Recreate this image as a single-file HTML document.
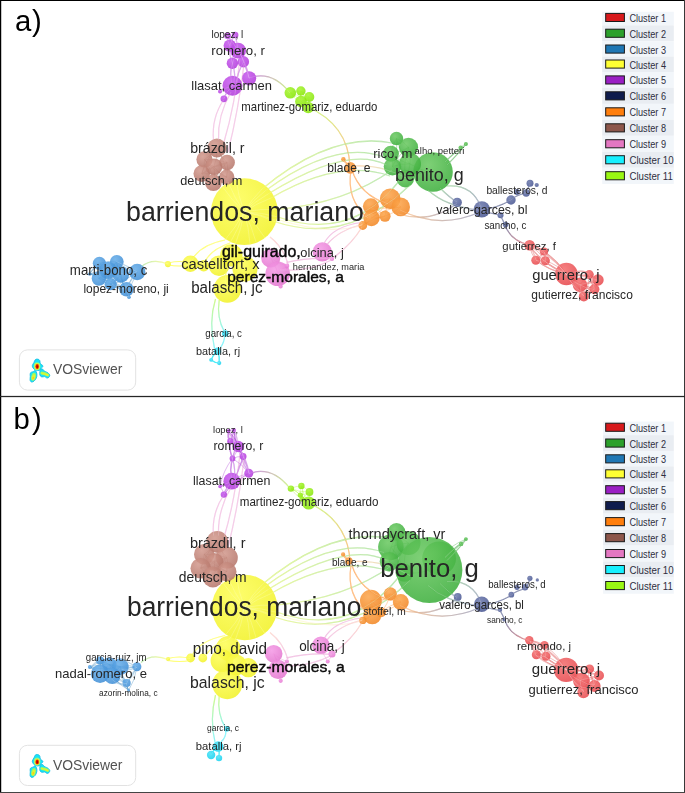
<!DOCTYPE html>
<html><head><meta charset="utf-8"><title>VOSviewer</title>
<style>
html,body{margin:0;padding:0;background:#fff;}
body{width:685px;height:793px;overflow:hidden;position:relative;font-family:"Liberation Sans",sans-serif;}
svg{position:absolute;left:0;top:0;display:block;}
text{font-family:"Liberation Sans",sans-serif;}
</style></head><body>
<svg width="685" height="793" viewBox="0 0 685 793">
<rect x="0" y="0" width="685" height="793" fill="#fff"/>

<defs><filter id="lb" x="-20%" y="-20%" width="140%" height="140%"><feGaussianBlur stdDeviation="0.35"/></filter><radialGradient id="n1" cx="0.38" cy="0.32" r="0.75"><stop offset="0" stop-color="rgb(244, 111, 111)" stop-opacity="0.87"/><stop offset="1" stop-color="rgb(230, 70, 75)" stop-opacity="0.87"/></radialGradient><radialGradient id="n2" cx="0.38" cy="0.32" r="0.75"><stop offset="0" stop-color="rgb(107, 201, 98)" stop-opacity="0.87"/><stop offset="1" stop-color="rgb(58, 173, 58)" stop-opacity="0.87"/></radialGradient><radialGradient id="n3" cx="0.38" cy="0.32" r="0.75"><stop offset="0" stop-color="rgb(102, 173, 233)" stop-opacity="0.87"/><stop offset="1" stop-color="rgb(61, 140, 212)" stop-opacity="0.87"/></radialGradient><radialGradient id="n4" cx="0.38" cy="0.32" r="0.75"><stop offset="0" stop-color="rgb(253, 253, 86)" stop-opacity="0.87"/><stop offset="1" stop-color="rgb(241, 241, 38)" stop-opacity="0.87"/></radialGradient><radialGradient id="n5" cx="0.38" cy="0.32" r="0.75"><stop offset="0" stop-color="rgb(199, 91, 238)" stop-opacity="0.87"/><stop offset="1" stop-color="rgb(176, 56, 217)" stop-opacity="0.87"/></radialGradient><radialGradient id="n6" cx="0.38" cy="0.32" r="0.75"><stop offset="0" stop-color="rgb(109, 122, 173)" stop-opacity="0.87"/><stop offset="1" stop-color="rgb(70, 84, 144)" stop-opacity="0.87"/></radialGradient><radialGradient id="n7" cx="0.38" cy="0.32" r="0.75"><stop offset="0" stop-color="rgb(252, 166, 77)" stop-opacity="0.87"/><stop offset="1" stop-color="rgb(241, 132, 33)" stop-opacity="0.87"/></radialGradient><radialGradient id="n8" cx="0.38" cy="0.32" r="0.75"><stop offset="0" stop-color="rgb(210, 153, 141)" stop-opacity="0.87"/><stop offset="1" stop-color="rgb(180, 116, 104)" stop-opacity="0.87"/></radialGradient><radialGradient id="n9" cx="0.38" cy="0.32" r="0.75"><stop offset="0" stop-color="rgb(244, 153, 229)" stop-opacity="0.87"/><stop offset="1" stop-color="rgb(227, 118, 207)" stop-opacity="0.87"/></radialGradient><radialGradient id="n10" cx="0.38" cy="0.32" r="0.75"><stop offset="0" stop-color="rgb(72, 226, 247)" stop-opacity="0.87"/><stop offset="1" stop-color="rgb(19, 209, 238)" stop-opacity="0.87"/></radialGradient><radialGradient id="n11" cx="0.38" cy="0.32" r="0.75"><stop offset="0" stop-color="rgb(166, 245, 47)" stop-opacity="0.87"/><stop offset="1" stop-color="rgb(134, 229, 8)" stop-opacity="0.87"/></radialGradient><linearGradient id="g0" gradientUnits="userSpaceOnUse" x1="249" y1="78" x2="290" y2="93"><stop offset="0" stop-color="rgba(158,30,205,0.619)"/><stop offset="1" stop-color="rgba(160,245,20,0.619)"/></linearGradient><linearGradient id="g1" gradientUnits="userSpaceOnUse" x1="308" y1="107" x2="350" y2="166"><stop offset="0" stop-color="rgba(160,245,20,0.619)"/><stop offset="1" stop-color="rgba(255,127,14,0.619)"/></linearGradient><linearGradient id="g2" gradientUnits="userSpaceOnUse" x1="262" y1="189" x2="392" y2="143"><stop offset="0" stop-color="rgba(205,238,50,0.569)"/><stop offset="1" stop-color="rgba(110,205,95,0.569)"/></linearGradient><linearGradient id="g3" gradientUnits="userSpaceOnUse" x1="265" y1="191" x2="384" y2="157"><stop offset="0" stop-color="rgba(205,238,50,0.569)"/><stop offset="1" stop-color="rgba(110,205,95,0.569)"/></linearGradient><linearGradient id="g4" gradientUnits="userSpaceOnUse" x1="268" y1="194" x2="386.5" y2="164.7"><stop offset="0" stop-color="rgba(205,238,50,0.569)"/><stop offset="1" stop-color="rgba(110,205,95,0.569)"/></linearGradient><linearGradient id="g5" gradientUnits="userSpaceOnUse" x1="271" y1="198" x2="390" y2="176"><stop offset="0" stop-color="rgba(205,238,50,0.569)"/><stop offset="1" stop-color="rgba(110,205,95,0.569)"/></linearGradient><linearGradient id="g6" gradientUnits="userSpaceOnUse" x1="277.3" y1="209.4" x2="392" y2="170"><stop offset="0" stop-color="rgba(205,238,50,0.569)"/><stop offset="1" stop-color="rgba(110,205,95,0.569)"/></linearGradient><linearGradient id="g7" gradientUnits="userSpaceOnUse" x1="278" y1="217" x2="400" y2="180"><stop offset="0" stop-color="rgba(205,238,50,0.569)"/><stop offset="1" stop-color="rgba(110,205,95,0.569)"/></linearGradient><linearGradient id="g8" gradientUnits="userSpaceOnUse" x1="276" y1="222" x2="410" y2="185"><stop offset="0" stop-color="rgba(205,238,50,0.569)"/><stop offset="1" stop-color="rgba(110,205,95,0.569)"/></linearGradient><linearGradient id="g9" gradientUnits="userSpaceOnUse" x1="276" y1="219" x2="362" y2="225"><stop offset="0" stop-color="rgba(255,255,51,0.272)"/><stop offset="1" stop-color="rgba(250,170,150,0.272)"/></linearGradient><linearGradient id="g10" gradientUnits="userSpaceOnUse" x1="355" y1="166" x2="410" y2="180"><stop offset="0" stop-color="rgba(255,127,14,0.371)"/><stop offset="1" stop-color="rgba(110,205,95,0.371)"/></linearGradient><linearGradient id="g11" gradientUnits="userSpaceOnUse" x1="400" y1="210" x2="480" y2="212"><stop offset="0" stop-color="rgba(255,127,14,0.47)"/><stop offset="1" stop-color="rgba(28,40,104,0.47)"/></linearGradient><linearGradient id="g12" gradientUnits="userSpaceOnUse" x1="398" y1="214" x2="457" y2="203"><stop offset="0" stop-color="rgba(255,127,14,0.47)"/><stop offset="1" stop-color="rgba(28,40,104,0.47)"/></linearGradient><linearGradient id="g13" gradientUnits="userSpaceOnUse" x1="440" y1="188" x2="457" y2="202"><stop offset="0" stop-color="rgba(44,160,44,0.446)"/><stop offset="1" stop-color="rgba(28,40,104,0.446)"/></linearGradient><linearGradient id="g14" gradientUnits="userSpaceOnUse" x1="447" y1="186" x2="481" y2="207"><stop offset="0" stop-color="rgba(44,160,44,0.446)"/><stop offset="1" stop-color="rgba(28,40,104,0.446)"/></linearGradient><linearGradient id="g15" gradientUnits="userSpaceOnUse" x1="428" y1="190" x2="478" y2="210"><stop offset="0" stop-color="rgba(44,160,44,0.446)"/><stop offset="1" stop-color="rgba(28,40,104,0.446)"/></linearGradient><linearGradient id="g16" gradientUnits="userSpaceOnUse" x1="505" y1="225" x2="529" y2="245"><stop offset="0" stop-color="rgba(28,40,104,0.619)"/><stop offset="1" stop-color="rgba(214,39,40,0.619)"/></linearGradient><linearGradient id="g17" gradientUnits="userSpaceOnUse" x1="327" y1="244.5" x2="362.5" y2="224.5"><stop offset="0" stop-color="rgba(227,119,194,0.52)"/><stop offset="1" stop-color="rgba(250,170,150,0.52)"/></linearGradient><linearGradient id="g18" gradientUnits="userSpaceOnUse" x1="362" y1="227" x2="333" y2="258"><stop offset="0" stop-color="rgba(250,170,150,0.557)"/><stop offset="1" stop-color="rgba(227,119,194,0.557)"/></linearGradient><linearGradient id="g19" gradientUnits="userSpaceOnUse" x1="270" y1="237" x2="288" y2="264"><stop offset="0" stop-color="rgba(250,170,150,0.495)"/><stop offset="1" stop-color="rgba(227,119,194,0.495)"/></linearGradient><linearGradient id="g20" gradientUnits="userSpaceOnUse" x1="141" y1="267" x2="168" y2="264"><stop offset="0" stop-color="rgba(110,205,95,0.557)"/><stop offset="1" stop-color="rgba(255,255,51,0.557)"/></linearGradient><linearGradient id="g21" gradientUnits="userSpaceOnUse" x1="215.5" y1="299" x2="214.5" y2="348.5"><stop offset="0" stop-color="rgba(160,245,20,0.619)"/><stop offset="1" stop-color="rgba(23,232,245,0.619)"/></linearGradient><linearGradient id="g22" gradientUnits="userSpaceOnUse" x1="219.2" y1="300" x2="224.5" y2="332"><stop offset="0" stop-color="rgba(160,245,20,0.619)"/><stop offset="1" stop-color="rgba(23,232,245,0.619)"/></linearGradient><linearGradient id="g23" gradientUnits="userSpaceOnUse" x1="249" y1="473.5" x2="290" y2="488.5"><stop offset="0" stop-color="rgba(158,30,205,0.619)"/><stop offset="1" stop-color="rgba(160,245,20,0.619)"/></linearGradient><linearGradient id="g24" gradientUnits="userSpaceOnUse" x1="308" y1="502.5" x2="350" y2="561.5"><stop offset="0" stop-color="rgba(160,245,20,0.619)"/><stop offset="1" stop-color="rgba(255,127,14,0.619)"/></linearGradient><linearGradient id="g25" gradientUnits="userSpaceOnUse" x1="262" y1="584.5" x2="392" y2="538.5"><stop offset="0" stop-color="rgba(205,238,50,0.569)"/><stop offset="1" stop-color="rgba(110,205,95,0.569)"/></linearGradient><linearGradient id="g26" gradientUnits="userSpaceOnUse" x1="265" y1="586.5" x2="384" y2="552.5"><stop offset="0" stop-color="rgba(205,238,50,0.569)"/><stop offset="1" stop-color="rgba(110,205,95,0.569)"/></linearGradient><linearGradient id="g27" gradientUnits="userSpaceOnUse" x1="268" y1="589.5" x2="386.5" y2="560.2"><stop offset="0" stop-color="rgba(205,238,50,0.569)"/><stop offset="1" stop-color="rgba(110,205,95,0.569)"/></linearGradient><linearGradient id="g28" gradientUnits="userSpaceOnUse" x1="271" y1="593.5" x2="390" y2="571.5"><stop offset="0" stop-color="rgba(205,238,50,0.569)"/><stop offset="1" stop-color="rgba(110,205,95,0.569)"/></linearGradient><linearGradient id="g29" gradientUnits="userSpaceOnUse" x1="277.3" y1="604.9" x2="392" y2="565.5"><stop offset="0" stop-color="rgba(205,238,50,0.569)"/><stop offset="1" stop-color="rgba(110,205,95,0.569)"/></linearGradient><linearGradient id="g30" gradientUnits="userSpaceOnUse" x1="278" y1="612.5" x2="400" y2="575.5"><stop offset="0" stop-color="rgba(205,238,50,0.569)"/><stop offset="1" stop-color="rgba(110,205,95,0.569)"/></linearGradient><linearGradient id="g31" gradientUnits="userSpaceOnUse" x1="276" y1="617.5" x2="410" y2="580.5"><stop offset="0" stop-color="rgba(205,238,50,0.569)"/><stop offset="1" stop-color="rgba(110,205,95,0.569)"/></linearGradient><linearGradient id="g32" gradientUnits="userSpaceOnUse" x1="276" y1="614.5" x2="362" y2="620.5"><stop offset="0" stop-color="rgba(255,255,51,0.272)"/><stop offset="1" stop-color="rgba(250,170,150,0.272)"/></linearGradient><linearGradient id="g33" gradientUnits="userSpaceOnUse" x1="355" y1="561.5" x2="410" y2="575.5"><stop offset="0" stop-color="rgba(255,127,14,0.371)"/><stop offset="1" stop-color="rgba(110,205,95,0.371)"/></linearGradient><linearGradient id="g34" gradientUnits="userSpaceOnUse" x1="400" y1="605.5" x2="480" y2="607.5"><stop offset="0" stop-color="rgba(255,127,14,0.47)"/><stop offset="1" stop-color="rgba(28,40,104,0.47)"/></linearGradient><linearGradient id="g35" gradientUnits="userSpaceOnUse" x1="398" y1="609.5" x2="457" y2="598.5"><stop offset="0" stop-color="rgba(255,127,14,0.47)"/><stop offset="1" stop-color="rgba(28,40,104,0.47)"/></linearGradient><linearGradient id="g36" gradientUnits="userSpaceOnUse" x1="440" y1="583.5" x2="457" y2="597.5"><stop offset="0" stop-color="rgba(44,160,44,0.446)"/><stop offset="1" stop-color="rgba(28,40,104,0.446)"/></linearGradient><linearGradient id="g37" gradientUnits="userSpaceOnUse" x1="447" y1="581.5" x2="481" y2="602.5"><stop offset="0" stop-color="rgba(44,160,44,0.446)"/><stop offset="1" stop-color="rgba(28,40,104,0.446)"/></linearGradient><linearGradient id="g38" gradientUnits="userSpaceOnUse" x1="428" y1="585.5" x2="478" y2="605.5"><stop offset="0" stop-color="rgba(44,160,44,0.446)"/><stop offset="1" stop-color="rgba(28,40,104,0.446)"/></linearGradient><linearGradient id="g39" gradientUnits="userSpaceOnUse" x1="505" y1="620.5" x2="529" y2="640.5"><stop offset="0" stop-color="rgba(28,40,104,0.619)"/><stop offset="1" stop-color="rgba(214,39,40,0.619)"/></linearGradient><linearGradient id="g40" gradientUnits="userSpaceOnUse" x1="327" y1="640.0" x2="362.5" y2="620.0"><stop offset="0" stop-color="rgba(227,119,194,0.52)"/><stop offset="1" stop-color="rgba(250,170,150,0.52)"/></linearGradient><linearGradient id="g41" gradientUnits="userSpaceOnUse" x1="362" y1="622.5" x2="333" y2="653.5"><stop offset="0" stop-color="rgba(250,170,150,0.557)"/><stop offset="1" stop-color="rgba(227,119,194,0.557)"/></linearGradient><linearGradient id="g42" gradientUnits="userSpaceOnUse" x1="270" y1="632.5" x2="288" y2="659.5"><stop offset="0" stop-color="rgba(250,170,150,0.495)"/><stop offset="1" stop-color="rgba(227,119,194,0.495)"/></linearGradient><linearGradient id="g43" gradientUnits="userSpaceOnUse" x1="141" y1="662.5" x2="168" y2="659.5"><stop offset="0" stop-color="rgba(110,205,95,0.557)"/><stop offset="1" stop-color="rgba(255,255,51,0.557)"/></linearGradient><linearGradient id="g44" gradientUnits="userSpaceOnUse" x1="215.5" y1="695" x2="215" y2="742"><stop offset="0" stop-color="rgba(160,245,20,0.619)"/><stop offset="1" stop-color="rgba(23,232,245,0.619)"/></linearGradient><linearGradient id="g45" gradientUnits="userSpaceOnUse" x1="219.2" y1="696" x2="225.5" y2="728"><stop offset="0" stop-color="rgba(160,245,20,0.619)"/><stop offset="1" stop-color="rgba(23,232,245,0.619)"/></linearGradient></defs>
<g id="edgesA"><path d="M249,78 Q272,70 290,93" stroke="url(#g0)" stroke-width="1.2" fill="none"/>
<path d="M308,107 Q348,125 350,166" stroke="url(#g1)" stroke-width="1.2" fill="none"/>
<path d="M223.5,100 Q211.5,118 213.5,140" stroke="rgba(227,119,194,0.47)" stroke-width="1.2" fill="none"/>
<path d="M231,92 Q217.5,115 218.5,140" stroke="rgba(227,119,194,0.47)" stroke-width="1.2" fill="none"/>
<path d="M240,58 Q235,105 224,142" stroke="rgba(227,119,194,0.47)" stroke-width="1.2" fill="none"/>
<path d="M244,64 Q238.5,110 228,152" stroke="rgba(227,119,194,0.47)" stroke-width="1.2" fill="none"/>
<path d="M262,189 Q331.8,131.2 392,143" stroke="url(#g2)" stroke-width="1.25" fill="none"/>
<path d="M265,191 Q335.5,139 384,157" stroke="url(#g3)" stroke-width="1.25" fill="none"/>
<path d="M268,194 Q346.6,145 386.5,164.7" stroke="url(#g4)" stroke-width="1.25" fill="none"/>
<path d="M271,198 Q339.5,158 390,176" stroke="url(#g5)" stroke-width="1.25" fill="none"/>
<path d="M277.3,209.4 Q345.4,203.3 392,170" stroke="url(#g6)" stroke-width="1.25" fill="none"/>
<path d="M278,217 Q351,242.5 400,180" stroke="url(#g7)" stroke-width="1.25" fill="none"/>
<path d="M276,222 Q347,245.5 410,185" stroke="url(#g8)" stroke-width="1.25" fill="none"/>
<path d="M276,219 Q330,236 362,225" stroke="url(#g9)" stroke-width="1.2" fill="none"/>
<path d="M351,170 Q346,200 368,218" stroke="rgba(255,127,14,0.619)" stroke-width="1.2" fill="none"/>
<path d="M352,170 Q360,195 388,204" stroke="rgba(255,127,14,0.619)" stroke-width="1.2" fill="none"/>
<path d="M355,166 Q385,165 410,180" stroke="url(#g10)" stroke-width="1.2" fill="none"/>
<path d="M343,160 Q346,163 351,168" stroke="rgba(255,127,14,0.619)" stroke-width="1.2" fill="none"/>
<path d="M400,210 Q440,230 480,212" stroke="url(#g11)" stroke-width="1.2" fill="none"/>
<path d="M398,214 Q432,224 457,203" stroke="url(#g12)" stroke-width="1.2" fill="none"/>
<path d="M440,188 Q450,198 457,202" stroke="url(#g13)" stroke-width="1.2" fill="none"/>
<path d="M447,186 Q472,184 481,207" stroke="url(#g14)" stroke-width="1.2" fill="none"/>
<path d="M428,190 Q445,206 478,210" stroke="url(#g15)" stroke-width="1.2" fill="none"/>
<path d="M445,162 Q455,152 461,148" stroke="rgba(44,160,44,0.619)" stroke-width="1.2" fill="none"/>
<path d="M447,165 Q460,152 466,144" stroke="rgba(44,160,44,0.619)" stroke-width="1.2" fill="none"/>
<path d="M481,210 Q497,208 511,200" stroke="rgba(28,40,104,0.619)" stroke-width="1.2" fill="none"/>
<path d="M511,200 Q516,195 526,193" stroke="rgba(28,40,104,0.619)" stroke-width="1.2" fill="none"/>
<path d="M526,193 Q528,188 530,184" stroke="rgba(28,40,104,0.619)" stroke-width="1.2" fill="none"/>
<path d="M481,210 Q492,214 500,215" stroke="rgba(28,40,104,0.619)" stroke-width="1.2" fill="none"/>
<path d="M500,215 Q503,220 505,225" stroke="rgba(28,40,104,0.619)" stroke-width="1.2" fill="none"/>
<path d="M505,225 Q510,240 529,245" stroke="url(#g16)" stroke-width="1.2" fill="none"/>
<path d="M530,246 Q552,255 566,274" stroke="rgba(214,39,40,0.371)" stroke-width="1.2" fill="none"/>
<path d="M536,260 Q548,270 566,274" stroke="rgba(214,39,40,0.371)" stroke-width="1.2" fill="none"/>
<path d="M545,261 Q552,268 566,274" stroke="rgba(214,39,40,0.371)" stroke-width="1.2" fill="none"/>
<path d="M544,252 Q556,260 566,274" stroke="rgba(214,39,40,0.371)" stroke-width="1.2" fill="none"/>
<path d="M530,246 Q535,255 536,260" stroke="rgba(214,39,40,0.371)" stroke-width="1.2" fill="none"/>
<path d="M566,274 Q580,275 598,280" stroke="rgba(214,39,40,0.371)" stroke-width="1.2" fill="none"/>
<path d="M566,274 Q575,290 584,296" stroke="rgba(214,39,40,0.371)" stroke-width="1.2" fill="none"/>
<path d="M324,243.5 Q333,226 362,222.5" stroke="rgba(227,119,194,0.52)" stroke-width="1.2" fill="none"/>
<path d="M327,244.5 Q339,230 362.5,224.5" stroke="url(#g17)" stroke-width="1.2" fill="none"/>
<path d="M362,227 Q352,244 333,258" stroke="url(#g18)" stroke-width="1.2" fill="none"/>
<path d="M286.5,262.3 Q310,257 332,258.8" stroke="rgba(227,119,194,0.52)" stroke-width="1.2" fill="none"/>
<path d="M280,270 Q308,272 331.5,260" stroke="rgba(227,119,194,0.47)" stroke-width="1.2" fill="none"/>
<path d="M270,237 Q283,247 288,264" stroke="url(#g19)" stroke-width="1.2" fill="none"/>
<path d="M141,267 Q152,257.5 168,264" stroke="url(#g20)" stroke-width="1.2" fill="none"/>
<path d="M168,263 Q180,260 190,263" stroke="rgba(255,255,51,0.866)" stroke-width="1.2" fill="none"/>
<path d="M168,265 Q180,267 190,265" stroke="rgba(255,255,51,0.866)" stroke-width="1.2" fill="none"/>
<path d="M225,240 Q200,245 192,260" stroke="rgba(255,255,51,0.743)" stroke-width="1.2" fill="none"/>
<path d="M230,243 Q210,250 205,262" stroke="rgba(255,255,51,0.743)" stroke-width="1.2" fill="none"/>
<path d="M227.6,36 Q227,41 229.8,45.6" stroke="rgba(158,30,205,0.433)" stroke-width="1.2" fill="none"/>
<path d="M235.1,35 Q237,42 238.1,50.7" stroke="rgba(158,30,205,0.433)" stroke-width="1.2" fill="none"/>
<path d="M227.6,36 Q233,42 238.1,50.7" stroke="rgba(158,30,205,0.433)" stroke-width="1.2" fill="none"/>
<path d="M235.1,35 Q231,40 229.8,45.6" stroke="rgba(158,30,205,0.433)" stroke-width="1.2" fill="none"/>
<path d="M238.1,50.7 Q234,57 232.4,63.2" stroke="rgba(158,30,205,0.433)" stroke-width="1.2" fill="none"/>
<path d="M238.1,50.7 Q242,56 243.4,61.7" stroke="rgba(158,30,205,0.433)" stroke-width="1.2" fill="none"/>
<path d="M229.8,45.6 Q229,55 232.4,63.2" stroke="rgba(158,30,205,0.433)" stroke-width="1.2" fill="none"/>
<path d="M232.4,63.2 Q229,74 232.5,85.7" stroke="rgba(158,30,205,0.495)" stroke-width="1.2" fill="none"/>
<path d="M232.4,63.2 Q236,74 234,85" stroke="rgba(158,30,205,0.495)" stroke-width="1.2" fill="none"/>
<path d="M243.4,61.7 Q238,72 236,82" stroke="rgba(158,30,205,0.495)" stroke-width="1.2" fill="none"/>
<path d="M243.4,61.7 Q247,70 249.1,78.3" stroke="rgba(158,30,205,0.495)" stroke-width="1.2" fill="none"/>
<path d="M238.1,50.7 Q247,64 249.1,78.3" stroke="rgba(158,30,205,0.433)" stroke-width="1.2" fill="none"/>
<path d="M232.5,85.7 Q226,92 223.9,98.8" stroke="rgba(158,30,205,0.495)" stroke-width="1.2" fill="none"/>
<path d="M232.5,85.7 Q225,88 220,91.5" stroke="rgba(158,30,205,0.495)" stroke-width="1.2" fill="none"/>
<path d="M529.6,245.3 Q537,246 544,251.5" stroke="rgba(214,39,40,0.495)" stroke-width="1.2" fill="none"/>
<path d="M544,251.5 Q546,256 545.4,260.7" stroke="rgba(214,39,40,0.495)" stroke-width="1.2" fill="none"/>
<path d="M535.8,260.2 Q540,262 545.4,260.7" stroke="rgba(214,39,40,0.495)" stroke-width="1.2" fill="none"/>
<path d="M529.6,245.3 Q540,262 566.4,274" stroke="rgba(214,39,40,0.495)" stroke-width="1.2" fill="none"/>
<path d="M566.4,274 Q572,282 580,284.8" stroke="rgba(214,39,40,0.495)" stroke-width="1.2" fill="none"/>
<path d="M580,284.8 Q588,283 598,280" stroke="rgba(214,39,40,0.495)" stroke-width="1.2" fill="none"/>
<path d="M580,284.8 Q588,290 594.4,289.3" stroke="rgba(214,39,40,0.495)" stroke-width="1.2" fill="none"/>
<path d="M580,284.8 Q580,292 583.8,296.4" stroke="rgba(214,39,40,0.495)" stroke-width="1.2" fill="none"/>
<path d="M589.3,274.6 Q593,284 594.4,289.3" stroke="rgba(214,39,40,0.495)" stroke-width="1.2" fill="none"/>
<path d="M566.4,274 Q585,268 589.3,274.6" stroke="rgba(214,39,40,0.495)" stroke-width="1.2" fill="none"/>
<path d="M566.4,274 Q580,300 594.4,289.3" stroke="rgba(214,39,40,0.495)" stroke-width="1.2" fill="none"/>
<path d="M136.6,271.7 Q128,266 116.2,261.5" stroke="rgba(31,119,180,0.371)" stroke-width="1.2" fill="none"/>
<path d="M136.6,271.7 Q130,282 126.4,288" stroke="rgba(31,119,180,0.371)" stroke-width="1.2" fill="none"/>
<path d="M136.6,271.7 Q128,276 121.3,273.7" stroke="rgba(31,119,180,0.371)" stroke-width="1.2" fill="none"/>
<path d="M126.4,288 Q127,293 129,297.2" stroke="rgba(31,119,180,0.495)" stroke-width="1.2" fill="none"/>
<path d="M126.4,288 Q118,290 112.1,284" stroke="rgba(31,119,180,0.371)" stroke-width="1.2" fill="none"/>
<path d="M99.9,263.5 Q94,268 90.2,272.3" stroke="rgba(31,119,180,0.371)" stroke-width="1.2" fill="none"/>
<path d="M215.5,299 Q208.5,322 214.5,348.5" stroke="url(#g21)" stroke-width="1.2" fill="none"/>
<path d="M219.2,300 Q216.5,318 224.5,332" stroke="url(#g22)" stroke-width="1.2" fill="none"/>
<path d="M224.8,335 Q224.5,342 220.5,347.5" stroke="rgba(23,232,245,0.619)" stroke-width="1.2" fill="none"/>
<path d="M217.5,351 Q213,355 211,360" stroke="rgba(23,232,245,0.99)" stroke-width="1.2" fill="none"/>
<path d="M217.5,351 Q220,357 219.2,363" stroke="rgba(23,232,245,0.99)" stroke-width="1.2" fill="none"/>
<path d="M211,360 Q215,363 219.2,363" stroke="rgba(23,232,245,0.99)" stroke-width="1.2" fill="none"/>
<path d="M235,245 Q222,275 226,290" stroke="rgba(255,255,51,0.743)" stroke-width="1.2" fill="none"/>
<path d="M244.1,211.8 Q251.7,199.3 262,189" stroke="rgba(255,255,51,0.371)" stroke-width="1.0" fill="none"/>
<path d="M244.1,211.8 Q253.3,200.1 265,191" stroke="rgba(255,255,51,0.371)" stroke-width="1.0" fill="none"/>
<path d="M244.1,211.8 Q255.0,201.5 268,194" stroke="rgba(255,255,51,0.371)" stroke-width="1.0" fill="none"/>
<path d="M244.1,211.8 Q256.7,203.3 271,198" stroke="rgba(255,255,51,0.371)" stroke-width="1.0" fill="none"/>
<path d="M244.1,211.8 Q260.6,208.6 277.3,209.4" stroke="rgba(255,255,51,0.371)" stroke-width="1.0" fill="none"/>
<path d="M244.1,211.8 Q261.4,212.4 278,217" stroke="rgba(255,255,51,0.371)" stroke-width="1.0" fill="none"/>
<path d="M244.1,211.8 Q260.7,215.0 276,222" stroke="rgba(255,255,51,0.371)" stroke-width="1.0" fill="none"/>
<path d="M244.1,211.8 Q260.0,214.0 275,220" stroke="rgba(255,255,51,0.371)" stroke-width="1.0" fill="none"/>
<path d="M244.1,211.8 Q256.1,223.6 265,238" stroke="rgba(255,255,51,0.371)" stroke-width="1.0" fill="none"/>
<path d="M244.1,211.8 Q236.2,227.0 225,240" stroke="rgba(255,255,51,0.371)" stroke-width="1.0" fill="none"/>
<path d="M244.1,211.8 Q238.9,228.2 230,243" stroke="rgba(255,255,51,0.371)" stroke-width="1.0" fill="none"/>
<path d="M244.1,211.8 Q241.5,228.9 235,245" stroke="rgba(255,255,51,0.371)" stroke-width="1.0" fill="none"/>
<path d="M244.1,211.8 Q234.3,197.9 228,182" stroke="rgba(255,255,51,0.371)" stroke-width="1.0" fill="none"/>
<path d="M244.1,211.8 Q238.1,195.9 236,179" stroke="rgba(255,255,51,0.371)" stroke-width="1.0" fill="none"/>
<path d="M244.1,211.8 Q231.5,200.2 222,186" stroke="rgba(255,255,51,0.371)" stroke-width="1.0" fill="none"/>
<path d="M244.1,211.8 Q249.0,227.5 250,244" stroke="rgba(255,255,51,0.371)" stroke-width="1.0" fill="none"/>
<path d="M244.1,211.8 Q251.9,226.2 256,242" stroke="rgba(255,255,51,0.371)" stroke-width="1.0" fill="none"/>
<path d="M529.6,245.3 Q537.5,246.7 544,251.5" stroke="rgba(214,39,40,0.309)" stroke-width="1.0" fill="none"/>
<path d="M529.6,245.3 Q530.9,253.5 535.8,260.2" stroke="rgba(214,39,40,0.309)" stroke-width="1.0" fill="none"/>
<path d="M529.6,245.3 Q539.3,251.1 545.4,260.7" stroke="rgba(214,39,40,0.309)" stroke-width="1.0" fill="none"/>
<path d="M544,251.5 Q540.9,256.8 535.8,260.2" stroke="rgba(214,39,40,0.309)" stroke-width="1.0" fill="none"/>
<path d="M544,251.5 Q543.6,256.3 545.4,260.7" stroke="rgba(214,39,40,0.309)" stroke-width="1.0" fill="none"/>
<path d="M544,251.5 Q557.9,260.1 566.4,274" stroke="rgba(214,39,40,0.309)" stroke-width="1.0" fill="none"/>
<path d="M535.8,260.2 Q540.7,259.3 545.4,260.7" stroke="rgba(214,39,40,0.309)" stroke-width="1.0" fill="none"/>
<path d="M535.8,260.2 Q549.4,270.8 566.4,274" stroke="rgba(214,39,40,0.309)" stroke-width="1.0" fill="none"/>
<path d="M545.4,260.7 Q557.5,264.8 566.4,274" stroke="rgba(214,39,40,0.309)" stroke-width="1.0" fill="none"/>
<path d="M566.4,274 Q574.5,277.8 580,284.8" stroke="rgba(214,39,40,0.309)" stroke-width="1.0" fill="none"/>
<path d="M566.4,274 Q577.8,277.0 589.3,274.6" stroke="rgba(214,39,40,0.309)" stroke-width="1.0" fill="none"/>
<path d="M566.4,274 Q582.9,273.2 598,280" stroke="rgba(214,39,40,0.309)" stroke-width="1.0" fill="none"/>
<path d="M566.4,274 Q578.6,285.0 594.4,289.3" stroke="rgba(214,39,40,0.309)" stroke-width="1.0" fill="none"/>
<path d="M566.4,274 Q577.8,283.1 583.8,296.4" stroke="rgba(214,39,40,0.309)" stroke-width="1.0" fill="none"/>
<path d="M580,284.8 Q583.4,278.6 589.3,274.6" stroke="rgba(214,39,40,0.309)" stroke-width="1.0" fill="none"/>
<path d="M580,284.8 Q589.6,284.6 598,280" stroke="rgba(214,39,40,0.309)" stroke-width="1.0" fill="none"/>
<path d="M580,284.8 Q587.7,285.3 594.4,289.3" stroke="rgba(214,39,40,0.309)" stroke-width="1.0" fill="none"/>
<path d="M580,284.8 Q580.5,291.1 583.8,296.4" stroke="rgba(214,39,40,0.309)" stroke-width="1.0" fill="none"/>
<path d="M589.3,274.6 Q594.3,276.3 598,280" stroke="rgba(214,39,40,0.309)" stroke-width="1.0" fill="none"/>
<path d="M589.3,274.6 Q590.1,282.6 594.4,289.3" stroke="rgba(214,39,40,0.309)" stroke-width="1.0" fill="none"/>
<path d="M589.3,274.6 Q589.2,286.2 583.8,296.4" stroke="rgba(214,39,40,0.309)" stroke-width="1.0" fill="none"/>
<path d="M598,280 Q597.3,285.1 594.4,289.3" stroke="rgba(214,39,40,0.309)" stroke-width="1.0" fill="none"/>
<path d="M598,280 Q588.9,286.5 583.8,296.4" stroke="rgba(214,39,40,0.309)" stroke-width="1.0" fill="none"/>
<path d="M594.4,289.3 Q590.0,294.1 583.8,296.4" stroke="rgba(214,39,40,0.309)" stroke-width="1.0" fill="none"/>
<path d="M433,172 Q420.5,170.8 410,164" stroke="rgba(44,160,44,0.309)" stroke-width="1.0" fill="none"/>
<path d="M433,172 Q418.4,172.0 405.3,178.6" stroke="rgba(44,160,44,0.309)" stroke-width="1.0" fill="none"/>
<path d="M396.5,138.5 Q403.6,141.5 408.5,147.3" stroke="rgba(44,160,44,0.309)" stroke-width="1.0" fill="none"/>
<path d="M396.5,138.5 Q391.9,145.4 390.9,153.7" stroke="rgba(44,160,44,0.309)" stroke-width="1.0" fill="none"/>
<path d="M396.5,138.5 Q397.9,153.0 392.5,166.6" stroke="rgba(44,160,44,0.309)" stroke-width="1.0" fill="none"/>
<path d="M396.5,138.5 Q400.2,152.9 410,164" stroke="rgba(44,160,44,0.309)" stroke-width="1.0" fill="none"/>
<path d="M408.5,147.3 Q400.5,152.6 390.9,153.7" stroke="rgba(44,160,44,0.309)" stroke-width="1.0" fill="none"/>
<path d="M408.5,147.3 Q398.2,155.0 392.5,166.6" stroke="rgba(44,160,44,0.309)" stroke-width="1.0" fill="none"/>
<path d="M408.5,147.3 Q411.3,155.5 410,164" stroke="rgba(44,160,44,0.309)" stroke-width="1.0" fill="none"/>
<path d="M408.5,147.3 Q403.1,162.6 405.3,178.6" stroke="rgba(44,160,44,0.309)" stroke-width="1.0" fill="none"/>
<path d="M390.9,153.7 Q393.2,160.0 392.5,166.6" stroke="rgba(44,160,44,0.309)" stroke-width="1.0" fill="none"/>
<path d="M390.9,153.7 Q399.2,161.1 410,164" stroke="rgba(44,160,44,0.309)" stroke-width="1.0" fill="none"/>
<path d="M390.9,153.7 Q401.1,164.4 405.3,178.6" stroke="rgba(44,160,44,0.309)" stroke-width="1.0" fill="none"/>
<path d="M392.5,166.6 Q400.9,163.2 410,164" stroke="rgba(44,160,44,0.309)" stroke-width="1.0" fill="none"/>
<path d="M392.5,166.6 Q397.5,174.1 405.3,178.6" stroke="rgba(44,160,44,0.309)" stroke-width="1.0" fill="none"/>
<path d="M410,164 Q409.4,171.9 405.3,178.6" stroke="rgba(44,160,44,0.309)" stroke-width="1.0" fill="none"/>
<path d="M460.7,147.6 Q462.9,145.2 465.9,144" stroke="rgba(44,160,44,0.309)" stroke-width="1.0" fill="none"/>
<path d="M99.4,263.3 Q107.9,260.5 116.8,261.8" stroke="rgba(31,119,180,0.309)" stroke-width="1.0" fill="none"/>
<path d="M99.4,263.3 Q102.9,267.9 108.1,270.4" stroke="rgba(31,119,180,0.309)" stroke-width="1.0" fill="none"/>
<path d="M99.4,263.3 Q97.3,270.9 98.9,278.6" stroke="rgba(31,119,180,0.309)" stroke-width="1.0" fill="none"/>
<path d="M99.4,263.3 Q111.5,266.3 120.9,274.5" stroke="rgba(31,119,180,0.309)" stroke-width="1.0" fill="none"/>
<path d="M99.4,263.3 Q102.5,275.1 110.7,284.2" stroke="rgba(31,119,180,0.309)" stroke-width="1.0" fill="none"/>
<path d="M99.4,263.3 Q93.3,267.5 89.7,274" stroke="rgba(31,119,180,0.309)" stroke-width="1.0" fill="none"/>
<path d="M116.8,261.8 Q113.5,267.1 108.1,270.4" stroke="rgba(31,119,180,0.309)" stroke-width="1.0" fill="none"/>
<path d="M116.8,261.8 Q125.8,269.3 137.2,272" stroke="rgba(31,119,180,0.309)" stroke-width="1.0" fill="none"/>
<path d="M116.8,261.8 Q109.9,272.3 98.9,278.6" stroke="rgba(31,119,180,0.309)" stroke-width="1.0" fill="none"/>
<path d="M116.8,261.8 Q117.3,268.6 120.9,274.5" stroke="rgba(31,119,180,0.309)" stroke-width="1.0" fill="none"/>
<path d="M116.8,261.8 Q116.4,273.7 110.7,284.2" stroke="rgba(31,119,180,0.309)" stroke-width="1.0" fill="none"/>
<path d="M116.8,261.8 Q118.4,276.7 126.5,289.3" stroke="rgba(31,119,180,0.309)" stroke-width="1.0" fill="none"/>
<path d="M116.8,261.8 Q104.7,271.2 89.7,274" stroke="rgba(31,119,180,0.309)" stroke-width="1.0" fill="none"/>
<path d="M108.1,270.4 Q122.8,267.7 137.2,272" stroke="rgba(31,119,180,0.309)" stroke-width="1.0" fill="none"/>
<path d="M108.1,270.4 Q102.5,273.4 98.9,278.6" stroke="rgba(31,119,180,0.309)" stroke-width="1.0" fill="none"/>
<path d="M108.1,270.4 Q115.0,270.9 120.9,274.5" stroke="rgba(31,119,180,0.309)" stroke-width="1.0" fill="none"/>
<path d="M108.1,270.4 Q107.7,277.6 110.7,284.2" stroke="rgba(31,119,180,0.309)" stroke-width="1.0" fill="none"/>
<path d="M108.1,270.4 Q119.6,277.6 126.5,289.3" stroke="rgba(31,119,180,0.309)" stroke-width="1.0" fill="none"/>
<path d="M108.1,270.4 Q98.5,270.0 89.7,274" stroke="rgba(31,119,180,0.309)" stroke-width="1.0" fill="none"/>
<path d="M108.1,270.4 Q121.8,281.3 129,297.2" stroke="rgba(31,119,180,0.309)" stroke-width="1.0" fill="none"/>
<path d="M137.2,272 Q128.8,271.3 120.9,274.5" stroke="rgba(31,119,180,0.309)" stroke-width="1.0" fill="none"/>
<path d="M137.2,272 Q125.4,281.3 110.7,284.2" stroke="rgba(31,119,180,0.309)" stroke-width="1.0" fill="none"/>
<path d="M137.2,272 Q129.8,279.4 126.5,289.3" stroke="rgba(31,119,180,0.309)" stroke-width="1.0" fill="none"/>
<path d="M137.2,272 Q130.1,283.6 129,297.2" stroke="rgba(31,119,180,0.309)" stroke-width="1.0" fill="none"/>
<path d="M98.9,278.6 Q109.4,273.9 120.9,274.5" stroke="rgba(31,119,180,0.309)" stroke-width="1.0" fill="none"/>
<path d="M98.9,278.6 Q104.1,282.8 110.7,284.2" stroke="rgba(31,119,180,0.309)" stroke-width="1.0" fill="none"/>
<path d="M98.9,278.6 Q114.0,280.6 126.5,289.3" stroke="rgba(31,119,180,0.309)" stroke-width="1.0" fill="none"/>
<path d="M98.9,278.6 Q94.9,275.2 89.7,274" stroke="rgba(31,119,180,0.309)" stroke-width="1.0" fill="none"/>
<path d="M120.9,274.5 Q117.0,280.6 110.7,284.2" stroke="rgba(31,119,180,0.309)" stroke-width="1.0" fill="none"/>
<path d="M120.9,274.5 Q121.9,282.6 126.5,289.3" stroke="rgba(31,119,180,0.309)" stroke-width="1.0" fill="none"/>
<path d="M120.9,274.5 Q105.2,278.0 89.7,274" stroke="rgba(31,119,180,0.309)" stroke-width="1.0" fill="none"/>
<path d="M120.9,274.5 Q122.2,286.8 129,297.2" stroke="rgba(31,119,180,0.309)" stroke-width="1.0" fill="none"/>
<path d="M110.7,284.2 Q119.2,284.9 126.5,289.3" stroke="rgba(31,119,180,0.309)" stroke-width="1.0" fill="none"/>
<path d="M110.7,284.2 Q101.4,276.6 89.7,274" stroke="rgba(31,119,180,0.309)" stroke-width="1.0" fill="none"/>
<path d="M110.7,284.2 Q121.4,288.5 129,297.2" stroke="rgba(31,119,180,0.309)" stroke-width="1.0" fill="none"/>
<path d="M126.5,289.3 Q126.8,293.6 129,297.2" stroke="rgba(31,119,180,0.309)" stroke-width="1.0" fill="none"/>
<path d="M343.4,159.2 Q347.8,162.7 350.2,167.9" stroke="rgba(255,127,14,0.309)" stroke-width="1.0" fill="none"/>
<path d="M370.9,206.3 Q379.6,200.2 390.2,198.7" stroke="rgba(255,127,14,0.309)" stroke-width="1.0" fill="none"/>
<path d="M370.9,206.3 Q385.7,210.2 400.7,206.9" stroke="rgba(255,127,14,0.309)" stroke-width="1.0" fill="none"/>
<path d="M370.9,206.3 Q379.1,209.6 385,216.2" stroke="rgba(255,127,14,0.309)" stroke-width="1.0" fill="none"/>
<path d="M370.9,206.3 Q369.8,212.2 371.5,218" stroke="rgba(255,127,14,0.309)" stroke-width="1.0" fill="none"/>
<path d="M370.9,206.3 Q369.2,216.9 362.8,225.5" stroke="rgba(255,127,14,0.309)" stroke-width="1.0" fill="none"/>
<path d="M390.2,198.7 Q396.4,201.5 400.7,206.9" stroke="rgba(255,127,14,0.309)" stroke-width="1.0" fill="none"/>
<path d="M390.2,198.7 Q385.5,206.8 385,216.2" stroke="rgba(255,127,14,0.309)" stroke-width="1.0" fill="none"/>
<path d="M390.2,198.7 Q383.2,210.6 371.5,218" stroke="rgba(255,127,14,0.309)" stroke-width="1.0" fill="none"/>
<path d="M400.7,206.9 Q394.0,213.4 385,216.2" stroke="rgba(255,127,14,0.309)" stroke-width="1.0" fill="none"/>
<path d="M400.7,206.9 Q384.8,208.9 371.5,218" stroke="rgba(255,127,14,0.309)" stroke-width="1.0" fill="none"/>
<path d="M385,216.2 Q378.5,218.7 371.5,218" stroke="rgba(255,127,14,0.309)" stroke-width="1.0" fill="none"/>
<path d="M385,216.2 Q372.8,218.2 362.8,225.5" stroke="rgba(255,127,14,0.309)" stroke-width="1.0" fill="none"/>
<path d="M371.5,218 Q368.0,222.8 362.8,225.5" stroke="rgba(255,127,14,0.309)" stroke-width="1.0" fill="none"/>
<path d="M216.9,147.9 Q212.1,155.1 204.5,159.4" stroke="rgba(140,86,75,0.309)" stroke-width="1.0" fill="none"/>
<path d="M216.9,147.9 Q220.2,156.5 227.1,162.6" stroke="rgba(140,86,75,0.309)" stroke-width="1.0" fill="none"/>
<path d="M216.9,147.9 Q217.7,157.7 213.9,166.8" stroke="rgba(140,86,75,0.309)" stroke-width="1.0" fill="none"/>
<path d="M216.9,147.9 Q206.3,158.9 201.8,173.6" stroke="rgba(140,86,75,0.309)" stroke-width="1.0" fill="none"/>
<path d="M216.9,147.9 Q225.4,161.4 226.8,177.2" stroke="rgba(140,86,75,0.309)" stroke-width="1.0" fill="none"/>
<path d="M204.5,159.4 Q216.2,158.3 227.1,162.6" stroke="rgba(140,86,75,0.309)" stroke-width="1.0" fill="none"/>
<path d="M204.5,159.4 Q208.3,164.2 213.9,166.8" stroke="rgba(140,86,75,0.309)" stroke-width="1.0" fill="none"/>
<path d="M204.5,159.4 Q204.9,166.8 201.8,173.6" stroke="rgba(140,86,75,0.309)" stroke-width="1.0" fill="none"/>
<path d="M204.5,159.4 Q213.5,171.0 226.8,177.2" stroke="rgba(140,86,75,0.309)" stroke-width="1.0" fill="none"/>
<path d="M204.5,159.4 Q211.8,170.0 213.4,182.8" stroke="rgba(140,86,75,0.309)" stroke-width="1.0" fill="none"/>
<path d="M227.1,162.6 Q221.0,166.3 213.9,166.8" stroke="rgba(140,86,75,0.309)" stroke-width="1.0" fill="none"/>
<path d="M227.1,162.6 Q213.1,165.1 201.8,173.6" stroke="rgba(140,86,75,0.309)" stroke-width="1.0" fill="none"/>
<path d="M227.1,162.6 Q228.7,169.9 226.8,177.2" stroke="rgba(140,86,75,0.309)" stroke-width="1.0" fill="none"/>
<path d="M227.1,162.6 Q217.8,171.1 213.4,182.8" stroke="rgba(140,86,75,0.309)" stroke-width="1.0" fill="none"/>
<path d="M213.9,166.8 Q208.7,171.7 201.8,173.6" stroke="rgba(140,86,75,0.309)" stroke-width="1.0" fill="none"/>
<path d="M213.9,166.8 Q219.1,173.5 226.8,177.2" stroke="rgba(140,86,75,0.309)" stroke-width="1.0" fill="none"/>
<path d="M213.9,166.8 Q215.6,174.9 213.4,182.8" stroke="rgba(140,86,75,0.309)" stroke-width="1.0" fill="none"/>
<path d="M201.8,173.6 Q214.7,172.4 226.8,177.2" stroke="rgba(140,86,75,0.309)" stroke-width="1.0" fill="none"/>
<path d="M201.8,173.6 Q206.5,179.6 213.4,182.8" stroke="rgba(140,86,75,0.309)" stroke-width="1.0" fill="none"/>
<path d="M226.8,177.2 Q220.8,181.6 213.4,182.8" stroke="rgba(140,86,75,0.309)" stroke-width="1.0" fill="none"/>
<path d="M270.7,258 Q276.1,265.1 277.7,273.8" stroke="rgba(227,119,194,0.309)" stroke-width="1.0" fill="none"/>
<path d="M270.7,258 Q277.9,263.9 287,265.9" stroke="rgba(227,119,194,0.309)" stroke-width="1.0" fill="none"/>
<path d="M270.7,258 Q279.1,271.0 280.6,286.4" stroke="rgba(227,119,194,0.309)" stroke-width="1.0" fill="none"/>
<path d="M277.7,273.8 Q281.4,268.7 287,265.9" stroke="rgba(227,119,194,0.309)" stroke-width="1.0" fill="none"/>
<path d="M277.7,273.8 Q277.6,280.4 280.6,286.4" stroke="rgba(227,119,194,0.309)" stroke-width="1.0" fill="none"/>
<path d="M287,265.9 Q286.3,276.9 280.6,286.4" stroke="rgba(227,119,194,0.309)" stroke-width="1.0" fill="none"/>
<path d="M322.3,251.9 Q328.0,254.2 332,258.9" stroke="rgba(227,119,194,0.309)" stroke-width="1.0" fill="none"/>
<path d="M290.3,92.8 Q295.4,90.6 300.9,91" stroke="rgba(160,245,20,0.309)" stroke-width="1.0" fill="none"/>
<path d="M290.3,92.8 Q299.3,97.2 309.3,97" stroke="rgba(160,245,20,0.309)" stroke-width="1.0" fill="none"/>
<path d="M290.3,92.8 Q296.6,95.9 300.9,101.5" stroke="rgba(160,245,20,0.309)" stroke-width="1.0" fill="none"/>
<path d="M290.3,92.8 Q297.5,102.3 308.2,107.5" stroke="rgba(160,245,20,0.309)" stroke-width="1.0" fill="none"/>
<path d="M300.9,91 Q305.8,93.0 309.3,97" stroke="rgba(160,245,20,0.309)" stroke-width="1.0" fill="none"/>
<path d="M300.9,91 Q299.6,96.2 300.9,101.5" stroke="rgba(160,245,20,0.309)" stroke-width="1.0" fill="none"/>
<path d="M300.9,91 Q306.5,98.4 308.2,107.5" stroke="rgba(160,245,20,0.309)" stroke-width="1.0" fill="none"/>
<path d="M309.3,97 Q305.6,100.3 300.9,101.5" stroke="rgba(160,245,20,0.309)" stroke-width="1.0" fill="none"/>
<path d="M309.3,97 Q307.5,102.1 308.2,107.5" stroke="rgba(160,245,20,0.309)" stroke-width="1.0" fill="none"/>
<path d="M300.9,101.5 Q305.3,103.6 308.2,107.5" stroke="rgba(160,245,20,0.309)" stroke-width="1.0" fill="none"/></g>
<g id="nodesA"><circle cx="244.4" cy="211.7" r="33.4" fill="url(#n4)"/>
<circle cx="433" cy="172" r="19.8" fill="url(#n2)"/>
<circle cx="227.6" cy="35.8" r="3.3" fill="url(#n5)"/>
<circle cx="235.1" cy="35" r="3.3" fill="url(#n5)"/>
<circle cx="229.8" cy="45.6" r="6.2" fill="url(#n5)"/>
<circle cx="238.1" cy="50.7" r="7.9" fill="url(#n5)"/>
<circle cx="232.4" cy="63.2" r="5.7" fill="url(#n5)"/>
<circle cx="243.4" cy="61.7" r="5.7" fill="url(#n5)"/>
<circle cx="232.5" cy="85.7" r="10" fill="url(#n5)"/>
<circle cx="249.1" cy="78.3" r="7.1" fill="url(#n5)"/>
<circle cx="220" cy="91.5" r="2" fill="url(#n5)"/>
<circle cx="223.9" cy="98.8" r="3.4" fill="url(#n5)"/>
<circle cx="290.3" cy="92.8" r="5.8" fill="url(#n11)"/>
<circle cx="300.9" cy="91" r="4.7" fill="url(#n11)"/>
<circle cx="309.3" cy="97" r="5" fill="url(#n11)"/>
<circle cx="300.9" cy="101.5" r="5.8" fill="url(#n11)"/>
<circle cx="308.2" cy="107.5" r="5.8" fill="url(#n11)"/>
<circle cx="216.9" cy="147.9" r="9.5" fill="url(#n8)"/>
<circle cx="204.5" cy="159.4" r="8.1" fill="url(#n8)"/>
<circle cx="227.1" cy="162.6" r="7.8" fill="url(#n8)"/>
<circle cx="213.9" cy="166.8" r="8.4" fill="url(#n8)"/>
<circle cx="201.8" cy="173.6" r="8.3" fill="url(#n8)"/>
<circle cx="226.8" cy="177.2" r="7.6" fill="url(#n8)"/>
<circle cx="213.4" cy="182.8" r="8.3" fill="url(#n8)"/>
<circle cx="231.3" cy="255.4" r="11.2" fill="url(#n4)"/>
<circle cx="219" cy="265.7" r="10.2" fill="url(#n4)"/>
<circle cx="203.7" cy="265.7" r="5.7" fill="url(#n4)"/>
<circle cx="190.4" cy="263.8" r="8.2" fill="url(#n4)"/>
<circle cx="167.9" cy="264.1" r="3.1" fill="url(#n4)"/>
<circle cx="227.4" cy="288.9" r="13.8" fill="url(#n4)"/>
<circle cx="245" cy="269" r="12.5" fill="url(#n4)"/>
<circle cx="270.7" cy="258" r="9.6" fill="url(#n9)"/>
<circle cx="277.7" cy="273.8" r="12.3" fill="url(#n9)"/>
<circle cx="287" cy="265.9" r="2.3" fill="url(#n9)"/>
<circle cx="280.6" cy="286.4" r="2.1" fill="url(#n9)"/>
<circle cx="322.3" cy="251.9" r="9.6" fill="url(#n9)"/>
<circle cx="332" cy="258.9" r="2.1" fill="url(#n9)"/>
<circle cx="343.4" cy="159.2" r="2.2" fill="url(#n7)"/>
<circle cx="350.2" cy="167.9" r="5.8" fill="url(#n7)"/>
<circle cx="370.9" cy="206.3" r="8" fill="url(#n7)"/>
<circle cx="390.2" cy="198.7" r="10.3" fill="url(#n7)"/>
<circle cx="400.7" cy="206.9" r="9.3" fill="url(#n7)"/>
<circle cx="385" cy="216.2" r="5.6" fill="url(#n7)"/>
<circle cx="371.5" cy="218" r="8.2" fill="url(#n7)"/>
<circle cx="362.8" cy="225.5" r="4.4" fill="url(#n7)"/>
<circle cx="396.5" cy="138.5" r="6.7" fill="url(#n2)"/>
<circle cx="408.5" cy="147.3" r="9.6" fill="url(#n2)"/>
<circle cx="390.9" cy="153.7" r="8" fill="url(#n2)"/>
<circle cx="392.5" cy="166.6" r="8.8" fill="url(#n2)"/>
<circle cx="410" cy="164" r="11" fill="url(#n2)"/>
<circle cx="405.3" cy="178.6" r="8.8" fill="url(#n2)"/>
<circle cx="460.7" cy="147.6" r="2.2" fill="url(#n2)"/>
<circle cx="465.9" cy="144" r="2" fill="url(#n2)"/>
<circle cx="457.2" cy="202.4" r="4.7" fill="url(#n6)"/>
<circle cx="481.8" cy="209.4" r="8.2" fill="url(#n6)"/>
<circle cx="500.5" cy="215.3" r="3" fill="url(#n6)"/>
<circle cx="505.6" cy="224.6" r="2.8" fill="url(#n6)"/>
<circle cx="511" cy="200" r="4.7" fill="url(#n6)"/>
<circle cx="516.8" cy="192" r="3" fill="url(#n6)"/>
<circle cx="526.2" cy="193" r="3.7" fill="url(#n6)"/>
<circle cx="530" cy="183.3" r="3.5" fill="url(#n6)"/>
<circle cx="536.7" cy="185" r="2.1" fill="url(#n6)"/>
<circle cx="529.6" cy="245.3" r="5.3" fill="url(#n1)"/>
<circle cx="544" cy="251.5" r="4.1" fill="url(#n1)"/>
<circle cx="535.8" cy="260.2" r="4.5" fill="url(#n1)"/>
<circle cx="545.4" cy="260.7" r="4.5" fill="url(#n1)"/>
<circle cx="566.4" cy="274" r="11.2" fill="url(#n1)"/>
<circle cx="580" cy="284.8" r="7.2" fill="url(#n1)"/>
<circle cx="589.3" cy="274.6" r="4.5" fill="url(#n1)"/>
<circle cx="598" cy="280" r="5.7" fill="url(#n1)"/>
<circle cx="594.4" cy="289.3" r="5" fill="url(#n1)"/>
<circle cx="583.8" cy="296.4" r="5" fill="url(#n1)"/>
<circle cx="99.4" cy="263.3" r="6.6" fill="url(#n3)"/>
<circle cx="116.8" cy="261.8" r="6.9" fill="url(#n3)"/>
<circle cx="108.1" cy="270.4" r="8.7" fill="url(#n3)"/>
<circle cx="137.2" cy="272" r="8.2" fill="url(#n3)"/>
<circle cx="98.9" cy="278.6" r="7.2" fill="url(#n3)"/>
<circle cx="120.9" cy="274.5" r="8.2" fill="url(#n3)"/>
<circle cx="110.7" cy="284.2" r="6.1" fill="url(#n3)"/>
<circle cx="126.5" cy="289.3" r="7.2" fill="url(#n3)"/>
<circle cx="89.7" cy="274" r="1.8" fill="url(#n3)"/>
<circle cx="129" cy="297.2" r="1.8" fill="url(#n3)"/>
<circle cx="225.3" cy="333.5" r="3.3" fill="url(#n10)"/>
<circle cx="217.5" cy="351.2" r="3.7" fill="url(#n10)"/>
<circle cx="211.1" cy="359.8" r="1.9" fill="url(#n10)"/>
<circle cx="219.2" cy="363.1" r="2.1" fill="url(#n10)"/></g><path d="M249,78 Q272,70 290,93 M308,107 Q348,125 350,166 M223.5,100 Q211.5,118 213.5,140 M231,92 Q217.5,115 218.5,140 M240,58 Q235,105 224,142 M244,64 Q238.5,110 228,152 M262,189 Q331.8,131.2 392,143 M265,191 Q335.5,139 384,157 M268,194 Q346.6,145 386.5,164.7 M271,198 Q339.5,158 390,176 M277.3,209.4 Q345.4,203.3 392,170 M278,217 Q351,242.5 400,180 M276,222 Q347,245.5 410,185 M276,219 Q330,236 362,225 M351,170 Q346,200 368,218 M352,170 Q360,195 388,204 M355,166 Q385,165 410,180 M343,160 Q346,163 351,168 M400,210 Q440,230 480,212 M398,214 Q432,224 457,203 M440,188 Q450,198 457,202 M447,186 Q472,184 481,207 M428,190 Q445,206 478,210 M445,162 Q455,152 461,148 M447,165 Q460,152 466,144 M481,210 Q497,208 511,200 M511,200 Q516,195 526,193 M526,193 Q528,188 530,184 M481,210 Q492,214 500,215 M500,215 Q503,220 505,225 M505,225 Q510,240 529,245 M530,246 Q552,255 566,274 M536,260 Q548,270 566,274 M545,261 Q552,268 566,274 M544,252 Q556,260 566,274 M530,246 Q535,255 536,260 M566,274 Q580,275 598,280 M566,274 Q575,290 584,296 M324,243.5 Q333,226 362,222.5 M327,244.5 Q339,230 362.5,224.5 M362,227 Q352,244 333,258 M286.5,262.3 Q310,257 332,258.8 M280,270 Q308,272 331.5,260 M270,237 Q283,247 288,264 M141,267 Q152,257.5 168,264 M168,263 Q180,260 190,263 M168,265 Q180,267 190,265 M225,240 Q200,245 192,260 M230,243 Q210,250 205,262 M227.6,36 Q227,41 229.8,45.6 M235.1,35 Q237,42 238.1,50.7 M227.6,36 Q233,42 238.1,50.7 M235.1,35 Q231,40 229.8,45.6 M238.1,50.7 Q234,57 232.4,63.2 M238.1,50.7 Q242,56 243.4,61.7 M229.8,45.6 Q229,55 232.4,63.2 M232.4,63.2 Q229,74 232.5,85.7 M232.4,63.2 Q236,74 234,85 M243.4,61.7 Q238,72 236,82 M243.4,61.7 Q247,70 249.1,78.3 M238.1,50.7 Q247,64 249.1,78.3 M232.5,85.7 Q226,92 223.9,98.8 M232.5,85.7 Q225,88 220,91.5 M529.6,245.3 Q537,246 544,251.5 M544,251.5 Q546,256 545.4,260.7 M535.8,260.2 Q540,262 545.4,260.7 M529.6,245.3 Q540,262 566.4,274 M566.4,274 Q572,282 580,284.8 M580,284.8 Q588,283 598,280 M580,284.8 Q588,290 594.4,289.3 M580,284.8 Q580,292 583.8,296.4 M589.3,274.6 Q593,284 594.4,289.3 M566.4,274 Q585,268 589.3,274.6 M566.4,274 Q580,300 594.4,289.3 M136.6,271.7 Q128,266 116.2,261.5 M136.6,271.7 Q130,282 126.4,288 M136.6,271.7 Q128,276 121.3,273.7 M126.4,288 Q127,293 129,297.2 M126.4,288 Q118,290 112.1,284 M99.9,263.5 Q94,268 90.2,272.3 M215.5,299 Q208.5,322 214.5,348.5 M219.2,300 Q216.5,318 224.5,332 M224.8,335 Q224.5,342 220.5,347.5 M217.5,351 Q213,355 211,360 M217.5,351 Q220,357 219.2,363 M211,360 Q215,363 219.2,363 M235,245 Q222,275 226,290 M244.1,211.8 Q251.7,199.3 262,189 M244.1,211.8 Q253.3,200.1 265,191 M244.1,211.8 Q255.0,201.5 268,194 M244.1,211.8 Q256.7,203.3 271,198 M244.1,211.8 Q260.6,208.6 277.3,209.4 M244.1,211.8 Q261.4,212.4 278,217 M244.1,211.8 Q260.7,215.0 276,222 M244.1,211.8 Q260.0,214.0 275,220 M244.1,211.8 Q256.1,223.6 265,238 M244.1,211.8 Q236.2,227.0 225,240 M244.1,211.8 Q238.9,228.2 230,243 M244.1,211.8 Q241.5,228.9 235,245 M244.1,211.8 Q234.3,197.9 228,182 M244.1,211.8 Q238.1,195.9 236,179 M244.1,211.8 Q231.5,200.2 222,186 M244.1,211.8 Q249.0,227.5 250,244 M244.1,211.8 Q251.9,226.2 256,242" stroke="rgba(255,255,255,0.24)" stroke-width="1" fill="none"/>
<g id="labelsA" style="opacity:0.999"><text x="15" y="30.9" font-size="29.3" fill="#000">a</text>
<text x="32" y="30.9" font-size="29.3" fill="#000">)</text>
<text x="211.43" y="38.2" font-size="10.32" textLength="31.93" lengthAdjust="spacingAndGlyphs" fill="#262626">lopez, l</text>
<text x="211.25" y="55.18" font-size="13.65" textLength="53.73" lengthAdjust="spacingAndGlyphs" fill="#262626">romero, r</text>
<text x="191.26" y="90.03" font-size="13.47" textLength="80.71" lengthAdjust="spacingAndGlyphs" fill="#262626">llasat, carmen</text>
<text x="241.34" y="111.22" font-size="11.92" textLength="136.08" lengthAdjust="spacingAndGlyphs" fill="#262626">martinez-gomariz, eduardo</text>
<text x="190.2" y="152.82" font-size="14.58" textLength="54.31" lengthAdjust="spacingAndGlyphs" fill="#262626">brázdil, r</text>
<text x="180.28" y="185.45" font-size="13.16" textLength="62.18" lengthAdjust="spacingAndGlyphs" fill="#262626">deutsch, m</text>
<text x="126.09" y="220.9" font-size="27.39" textLength="237.87" lengthAdjust="spacingAndGlyphs" fill="#262626">barriendos, mariano</text>
<text x="327.32" y="171.86" font-size="12.45" textLength="43.12" lengthAdjust="spacingAndGlyphs" fill="#262626">blade, e</text>
<text x="373.27" y="157.5" font-size="13.36" textLength="39.2" lengthAdjust="spacingAndGlyphs" fill="#262626">rico, m</text>
<text x="414.46" y="153.59" font-size="9.89" textLength="49.89" lengthAdjust="spacingAndGlyphs" fill="#262626">alho, petteri</text>
<text x="394.99" y="181.13" font-size="18.42" textLength="68.65" lengthAdjust="spacingAndGlyphs" fill="#262626">benito, g</text>
<text x="486.41" y="193.79" font-size="10.64" textLength="60.96" lengthAdjust="spacingAndGlyphs" fill="#262626">ballesteros, d</text>
<text x="436.29" y="214.46" font-size="12.84" textLength="91.16" lengthAdjust="spacingAndGlyphs" fill="#262626">valero-garces, bl</text>
<text x="484.44" y="228.65" font-size="10.11" textLength="41.91" lengthAdjust="spacingAndGlyphs" fill="#262626">sancho, c</text>
<text x="502.35" y="250.38" font-size="11.75" textLength="53.66" lengthAdjust="spacingAndGlyphs" fill="#262626">gutierrez, f</text>
<text x="532.16" y="280.2" font-size="15.28" textLength="67.37" lengthAdjust="spacingAndGlyphs" fill="#262626">guerrero, j</text>
<text x="531.31" y="299.09" font-size="12.54" textLength="101.53" lengthAdjust="spacingAndGlyphs" fill="#262626">gutierrez, francisco</text>
<text x="221.94" y="257.4" font-size="15.64" textLength="78.81" lengthAdjust="spacingAndGlyphs" fill="#0a0a0a" stroke="#0a0a0a" stroke-width="0.42" stroke-linejoin="round">gil-guirado,</text>
<text x="300.27" y="256.66" font-size="13.19" textLength="43.59" lengthAdjust="spacingAndGlyphs" fill="#262626">olcina, j</text>
<text x="292.87" y="270.31" font-size="9.57" textLength="71.46" lengthAdjust="spacingAndGlyphs" fill="#262626">hernandez, maria</text>
<text x="181.16" y="269.29" font-size="15.23" textLength="78.37" lengthAdjust="spacingAndGlyphs" fill="#262626">castelltort, x</text>
<text x="227.15" y="281.93" font-size="15.38" textLength="116.79" lengthAdjust="spacingAndGlyphs" fill="#0a0a0a" stroke="#0a0a0a" stroke-width="0.42" stroke-linejoin="round">perez-morales, a</text>
<text x="191.14" y="293.2" font-size="15.63" textLength="71.41" lengthAdjust="spacingAndGlyphs" fill="#262626">balasch, jc</text>
<text x="69.84" y="275.01" font-size="13.79" textLength="77.54" lengthAdjust="spacingAndGlyphs" fill="#262626">marti-bono, c</text>
<text x="83.41" y="292.87" font-size="12.49" textLength="85.33" lengthAdjust="spacingAndGlyphs" fill="#262626">lopez-moreno, ji</text>
<text x="205.25" y="336.72" font-size="9.99" textLength="36.7" lengthAdjust="spacingAndGlyphs" fill="#262626">garcia, c</text>
<text x="195.98" y="354.94" font-size="11.23" textLength="44.21" lengthAdjust="spacingAndGlyphs" fill="#262626">batalla, rj</text></g>
<g id="legendA"><rect x="602.2" y="11.75" width="71.6" height="13.60" fill="#f2f6fa"/>
<rect x="605.7" y="13.40" width="18.7" height="8.1" fill="#d7191c" stroke="#1a1a1a" stroke-width="1"/>
<text x="629.4000000000001" y="21.95" font-size="10" textLength="36.6" lengthAdjust="spacingAndGlyphs" fill="#2e2e40">Cluster 1</text>
<rect x="602.2" y="25.35" width="71.6" height="15.80" fill="#e9edf2"/>
<rect x="605.7" y="29.20" width="18.7" height="8.1" fill="#2ca02c" stroke="#1a1a1a" stroke-width="1"/>
<text x="629.4000000000001" y="37.75" font-size="10" textLength="36.6" lengthAdjust="spacingAndGlyphs" fill="#2e2e40">Cluster 2</text>
<rect x="602.2" y="41.15" width="71.6" height="15.40" fill="#f2f6fa"/>
<rect x="605.7" y="45.00" width="18.7" height="8.1" fill="#1f77b4" stroke="#1a1a1a" stroke-width="1"/>
<text x="629.4000000000001" y="53.55" font-size="10" textLength="36.6" lengthAdjust="spacingAndGlyphs" fill="#2e2e40">Cluster 3</text>
<rect x="602.2" y="56.55" width="71.6" height="15.45" fill="#e9edf2"/>
<rect x="605.7" y="60.00" width="18.7" height="8.1" fill="#ffff33" stroke="#1a1a1a" stroke-width="1"/>
<text x="629.4000000000001" y="68.55" font-size="10" textLength="36.6" lengthAdjust="spacingAndGlyphs" fill="#2e2e40">Cluster 4</text>
<rect x="602.2" y="72.00" width="71.6" height="15.90" fill="#f2f6fa"/>
<rect x="605.7" y="75.90" width="18.7" height="8.1" fill="#9a1fc4" stroke="#1a1a1a" stroke-width="1"/>
<text x="629.4000000000001" y="84.45" font-size="10" textLength="36.6" lengthAdjust="spacingAndGlyphs" fill="#2e2e40">Cluster 5</text>
<rect x="602.2" y="87.90" width="71.6" height="15.95" fill="#e9edf2"/>
<rect x="605.7" y="91.80" width="18.7" height="8.1" fill="#0f1c4d" stroke="#1a1a1a" stroke-width="1"/>
<text x="629.4000000000001" y="100.35" font-size="10" textLength="36.6" lengthAdjust="spacingAndGlyphs" fill="#2e2e40">Cluster 6</text>
<rect x="602.2" y="103.85" width="71.6" height="16.00" fill="#f2f6fa"/>
<rect x="605.7" y="107.80" width="18.7" height="8.1" fill="#ff7f0e" stroke="#1a1a1a" stroke-width="1"/>
<text x="629.4000000000001" y="116.35" font-size="10" textLength="36.6" lengthAdjust="spacingAndGlyphs" fill="#2e2e40">Cluster 7</text>
<rect x="602.2" y="119.85" width="71.6" height="15.95" fill="#e9edf2"/>
<rect x="605.7" y="123.80" width="18.7" height="8.1" fill="#8c564b" stroke="#1a1a1a" stroke-width="1"/>
<text x="629.4000000000001" y="132.35" font-size="10" textLength="36.6" lengthAdjust="spacingAndGlyphs" fill="#2e2e40">Cluster 8</text>
<rect x="602.2" y="135.80" width="71.6" height="15.95" fill="#f2f6fa"/>
<rect x="605.7" y="139.70" width="18.7" height="8.1" fill="#e377c2" stroke="#1a1a1a" stroke-width="1"/>
<text x="629.4000000000001" y="148.25" font-size="10" textLength="36.6" lengthAdjust="spacingAndGlyphs" fill="#2e2e40">Cluster 9</text>
<rect x="602.2" y="151.75" width="71.6" height="16.00" fill="#e9edf2"/>
<rect x="605.7" y="155.70" width="18.7" height="8.1" fill="#17f0ff" stroke="#1a1a1a" stroke-width="1"/>
<text x="629.4000000000001" y="164.25" font-size="10" textLength="44.2" lengthAdjust="spacingAndGlyphs" fill="#2e2e40">Cluster 10</text>
<rect x="602.2" y="167.75" width="71.6" height="16.20" fill="#f2f6fa"/>
<rect x="605.7" y="171.70" width="18.7" height="8.1" fill="#99f713" stroke="#1a1a1a" stroke-width="1"/>
<text x="629.4000000000001" y="180.25" font-size="10" textLength="43.4" lengthAdjust="spacingAndGlyphs" fill="#2e2e40">Cluster 11</text></g>
<g id="badgeA" style="opacity:0.999"><rect x="19.4" y="349.9" width="116.3" height="40.2" rx="8" ry="8" fill="#fff" stroke="#e2e2e2" stroke-width="1"/>
<g transform="translate(24.0,352.09999999999997)"><g filter="url(#lb)">
<g fill="#14e4f8" stroke="#1cc0e4" stroke-width="0.9" stroke-linejoin="round">
<path d="M13.3,7 C14.6,7.1 15.7,7.8 15.9,8.9 C16.1,9.9 16,10.9 16.4,11.7 C17.2,12.6 18.9,13 18.9,14 C18.9,15 17.8,15.4 17.3,16.1 C16.8,17 16.4,17.9 15.4,18.2 C14.2,18.6 12.8,18.5 11.7,18 C10.5,17.5 9.6,16.8 9.1,15.9 C8.6,15.2 8.2,14.4 8.3,13.6 C8.5,12.3 9.5,11.4 10,10.3 C10.4,9.4 10.6,8.4 11.2,7.7 C11.7,7.1 12.5,6.9 13.3,7 Z"/>
<path d="M11.3,18.4 C12.2,19.2 12.8,20.6 12.9,22 C13,23.4 12.8,24.9 12.2,26.2 C11.7,27.3 10.9,28.3 10,29 C9.3,29.6 8.5,30 7.7,29.9 C6.8,29.8 6.2,28.9 6.1,28 C5.9,26.8 6.3,25.5 6.3,24.3 C6.3,23.2 5.9,22 6.3,21 C6.7,20.1 7.9,19.9 8.9,19.7 C9.7,19.5 10.5,18 11.3,18.4 Z"/>
<path d="M16.8,17.3 C17.4,16.9 18.2,16.8 18.7,17.1 C19.4,17.4 19.5,18.2 19.9,18.7 C20.6,19.4 21.6,19.5 22.4,19.9 C23.5,20.4 24.6,21 25.2,22 C25.6,22.6 26,23.2 25.7,23.8 C25.3,24.9 24.5,25.8 23.4,25.9 C22.4,26 21.6,24.8 20.6,24.5 C19.7,24.3 18.7,25 17.8,24.8 C16.9,24.5 16.1,23.8 15.9,22.9 C15.6,21.8 15.8,20.7 15.9,19.6 C16,18.8 16.2,17.7 16.8,17.3 Z"/>
</g>
<ellipse cx="13.1" cy="14.1" rx="3.3" ry="4" fill="#7df7a0"/>
<ellipse cx="13.15" cy="14.3" rx="2.7" ry="3.4" fill="#d8f53a"/>
<ellipse cx="13.2" cy="14.4" rx="1.95" ry="2.65" fill="#ff8a10"/>
<ellipse cx="13.2" cy="14.4" rx="1.5" ry="2.2" fill="#e61e00"/>
<ellipse cx="13.25" cy="14.6" rx="0.85" ry="1.5" fill="#b40000" transform="rotate(-12 13.25 14.6)"/>
<ellipse cx="9.5" cy="24.6" rx="2.3" ry="4.1" fill="#9af76a" transform="rotate(14 9.5 24.6)"/>
<ellipse cx="9.5" cy="25" rx="1.5" ry="3" fill="#dcf534" transform="rotate(14 9.5 25)"/>
<ellipse cx="9.2" cy="25.9" rx="0.7" ry="1.35" fill="#ffc414" transform="rotate(14 9.2 25.9)"/>
<path d="M17.8,21 C19.5,21.2 22,21.8 23.8,23" stroke="#8cf77a" stroke-width="3" stroke-linecap="round" fill="none"/>
<path d="M17.9,21.1 C19.6,21.3 22,21.9 23.7,23" stroke="#d0f83a" stroke-width="1.9" stroke-linecap="round" fill="none"/>
<path d="M22.2,22.4 L23.5,23" stroke="#f0f02a" stroke-width="1.2" stroke-linecap="round" fill="none"/>
</g></g>
<text x="52.9" y="374.45" font-size="15" textLength="69.5" lengthAdjust="spacingAndGlyphs" fill="#525252">VOSviewer</text></g>
<g id="edgesB"><path d="M249,473.5 Q272,465.5 290,488.5" stroke="url(#g23)" stroke-width="1.2" fill="none"/>
<path d="M308,502.5 Q348,520.5 350,561.5" stroke="url(#g24)" stroke-width="1.2" fill="none"/>
<path d="M223.5,495.5 Q211.5,513.5 213.5,535.5" stroke="rgba(227,119,194,0.47)" stroke-width="1.2" fill="none"/>
<path d="M231,487.5 Q217.5,510.5 218.5,535.5" stroke="rgba(227,119,194,0.47)" stroke-width="1.2" fill="none"/>
<path d="M240,453.5 Q235,500.5 224,537.5" stroke="rgba(227,119,194,0.47)" stroke-width="1.2" fill="none"/>
<path d="M244,459.5 Q238.5,505.5 228,547.5" stroke="rgba(227,119,194,0.47)" stroke-width="1.2" fill="none"/>
<path d="M262,584.5 Q331.8,526.7 392,538.5" stroke="url(#g25)" stroke-width="1.25" fill="none"/>
<path d="M265,586.5 Q335.5,534.5 384,552.5" stroke="url(#g26)" stroke-width="1.25" fill="none"/>
<path d="M268,589.5 Q346.6,540.5 386.5,560.2" stroke="url(#g27)" stroke-width="1.25" fill="none"/>
<path d="M271,593.5 Q339.5,553.5 390,571.5" stroke="url(#g28)" stroke-width="1.25" fill="none"/>
<path d="M277.3,604.9 Q345.4,598.8 392,565.5" stroke="url(#g29)" stroke-width="1.25" fill="none"/>
<path d="M278,612.5 Q351,638.0 400,575.5" stroke="url(#g30)" stroke-width="1.25" fill="none"/>
<path d="M276,617.5 Q347,641.0 410,580.5" stroke="url(#g31)" stroke-width="1.25" fill="none"/>
<path d="M276,614.5 Q330,631.5 362,620.5" stroke="url(#g32)" stroke-width="1.2" fill="none"/>
<path d="M351,565.5 Q346,595.5 368,613.5" stroke="rgba(255,127,14,0.619)" stroke-width="1.2" fill="none"/>
<path d="M352,565.5 Q360,590.5 388,599.5" stroke="rgba(255,127,14,0.619)" stroke-width="1.2" fill="none"/>
<path d="M355,561.5 Q385,560.5 410,575.5" stroke="url(#g33)" stroke-width="1.2" fill="none"/>
<path d="M343,555.5 Q346,558.5 351,563.5" stroke="rgba(255,127,14,0.619)" stroke-width="1.2" fill="none"/>
<path d="M400,605.5 Q440,625.5 480,607.5" stroke="url(#g34)" stroke-width="1.2" fill="none"/>
<path d="M398,609.5 Q432,619.5 457,598.5" stroke="url(#g35)" stroke-width="1.2" fill="none"/>
<path d="M440,583.5 Q450,593.5 457,597.5" stroke="url(#g36)" stroke-width="1.2" fill="none"/>
<path d="M447,581.5 Q472,579.5 481,602.5" stroke="url(#g37)" stroke-width="1.2" fill="none"/>
<path d="M428,585.5 Q445,601.5 478,605.5" stroke="url(#g38)" stroke-width="1.2" fill="none"/>
<path d="M445,557.5 Q455,547.5 461,543.5" stroke="rgba(44,160,44,0.619)" stroke-width="1.2" fill="none"/>
<path d="M447,560.5 Q460,547.5 466,539.5" stroke="rgba(44,160,44,0.619)" stroke-width="1.2" fill="none"/>
<path d="M481,605.5 Q497,603.5 511,595.5" stroke="rgba(28,40,104,0.619)" stroke-width="1.2" fill="none"/>
<path d="M511,595.5 Q516,590.5 526,588.5" stroke="rgba(28,40,104,0.619)" stroke-width="1.2" fill="none"/>
<path d="M526,588.5 Q528,583.5 530,579.5" stroke="rgba(28,40,104,0.619)" stroke-width="1.2" fill="none"/>
<path d="M481,605.5 Q492,609.5 500,610.5" stroke="rgba(28,40,104,0.619)" stroke-width="1.2" fill="none"/>
<path d="M500,610.5 Q503,615.5 505,620.5" stroke="rgba(28,40,104,0.619)" stroke-width="1.2" fill="none"/>
<path d="M505,620.5 Q510,635.5 529,640.5" stroke="url(#g39)" stroke-width="1.2" fill="none"/>
<path d="M530,641.5 Q552,650.5 566,669.5" stroke="rgba(214,39,40,0.371)" stroke-width="1.2" fill="none"/>
<path d="M536,655.5 Q548,665.5 566,669.5" stroke="rgba(214,39,40,0.371)" stroke-width="1.2" fill="none"/>
<path d="M545,656.5 Q552,663.5 566,669.5" stroke="rgba(214,39,40,0.371)" stroke-width="1.2" fill="none"/>
<path d="M544,647.5 Q556,655.5 566,669.5" stroke="rgba(214,39,40,0.371)" stroke-width="1.2" fill="none"/>
<path d="M530,641.5 Q535,650.5 536,655.5" stroke="rgba(214,39,40,0.371)" stroke-width="1.2" fill="none"/>
<path d="M566,669.5 Q580,670.5 598,675.5" stroke="rgba(214,39,40,0.371)" stroke-width="1.2" fill="none"/>
<path d="M566,669.5 Q575,685.5 584,691.5" stroke="rgba(214,39,40,0.371)" stroke-width="1.2" fill="none"/>
<path d="M324,639.0 Q333,621.5 362,618.0" stroke="rgba(227,119,194,0.52)" stroke-width="1.2" fill="none"/>
<path d="M327,640.0 Q339,625.5 362.5,620.0" stroke="url(#g40)" stroke-width="1.2" fill="none"/>
<path d="M362,622.5 Q352,639.5 333,653.5" stroke="url(#g41)" stroke-width="1.2" fill="none"/>
<path d="M286.5,657.8 Q310,652.5 332,654.3" stroke="rgba(227,119,194,0.52)" stroke-width="1.2" fill="none"/>
<path d="M280,665.5 Q308,667.5 331.5,655.5" stroke="rgba(227,119,194,0.47)" stroke-width="1.2" fill="none"/>
<path d="M270,632.5 Q283,642.5 288,659.5" stroke="url(#g42)" stroke-width="1.2" fill="none"/>
<path d="M141,662.5 Q152,653.0 168,659.5" stroke="url(#g43)" stroke-width="1.2" fill="none"/>
<path d="M168,658.5 Q180,655.5 190,658.5" stroke="rgba(255,255,51,0.866)" stroke-width="1.2" fill="none"/>
<path d="M168,660.5 Q180,662.5 190,660.5" stroke="rgba(255,255,51,0.866)" stroke-width="1.2" fill="none"/>
<path d="M225,635.5 Q200,640.5 192,655.5" stroke="rgba(255,255,51,0.743)" stroke-width="1.2" fill="none"/>
<path d="M230,638.5 Q210,645.5 205,657.5" stroke="rgba(255,255,51,0.743)" stroke-width="1.2" fill="none"/>
<path d="M227.6,431.5 Q227,436.5 229.8,441.1" stroke="rgba(158,30,205,0.433)" stroke-width="1.2" fill="none"/>
<path d="M235.1,430.5 Q237,437.5 238.1,446.2" stroke="rgba(158,30,205,0.433)" stroke-width="1.2" fill="none"/>
<path d="M227.6,431.5 Q233,437.5 238.1,446.2" stroke="rgba(158,30,205,0.433)" stroke-width="1.2" fill="none"/>
<path d="M235.1,430.5 Q231,435.5 229.8,441.1" stroke="rgba(158,30,205,0.433)" stroke-width="1.2" fill="none"/>
<path d="M238.1,446.2 Q234,452.5 232.4,458.7" stroke="rgba(158,30,205,0.433)" stroke-width="1.2" fill="none"/>
<path d="M238.1,446.2 Q242,451.5 243.4,457.2" stroke="rgba(158,30,205,0.433)" stroke-width="1.2" fill="none"/>
<path d="M229.8,441.1 Q229,450.5 232.4,458.7" stroke="rgba(158,30,205,0.433)" stroke-width="1.2" fill="none"/>
<path d="M232.4,458.7 Q229,469.5 232.5,481.2" stroke="rgba(158,30,205,0.495)" stroke-width="1.2" fill="none"/>
<path d="M232.4,458.7 Q236,469.5 234,480.5" stroke="rgba(158,30,205,0.495)" stroke-width="1.2" fill="none"/>
<path d="M243.4,457.2 Q238,467.5 236,477.5" stroke="rgba(158,30,205,0.495)" stroke-width="1.2" fill="none"/>
<path d="M243.4,457.2 Q247,465.5 249.1,473.8" stroke="rgba(158,30,205,0.495)" stroke-width="1.2" fill="none"/>
<path d="M238.1,446.2 Q247,459.5 249.1,473.8" stroke="rgba(158,30,205,0.433)" stroke-width="1.2" fill="none"/>
<path d="M232.5,481.2 Q226,487.5 223.9,494.3" stroke="rgba(158,30,205,0.495)" stroke-width="1.2" fill="none"/>
<path d="M232.5,481.2 Q225,483.5 220,487.0" stroke="rgba(158,30,205,0.495)" stroke-width="1.2" fill="none"/>
<path d="M529.6,640.8 Q537,641.5 544,647.0" stroke="rgba(214,39,40,0.495)" stroke-width="1.2" fill="none"/>
<path d="M544,647.0 Q546,651.5 545.4,656.2" stroke="rgba(214,39,40,0.495)" stroke-width="1.2" fill="none"/>
<path d="M535.8,655.7 Q540,657.5 545.4,656.2" stroke="rgba(214,39,40,0.495)" stroke-width="1.2" fill="none"/>
<path d="M529.6,640.8 Q540,657.5 566.4,669.5" stroke="rgba(214,39,40,0.495)" stroke-width="1.2" fill="none"/>
<path d="M566.4,669.5 Q572,677.5 580,680.3" stroke="rgba(214,39,40,0.495)" stroke-width="1.2" fill="none"/>
<path d="M580,680.3 Q588,678.5 598,675.5" stroke="rgba(214,39,40,0.495)" stroke-width="1.2" fill="none"/>
<path d="M580,680.3 Q588,685.5 594.4,684.8" stroke="rgba(214,39,40,0.495)" stroke-width="1.2" fill="none"/>
<path d="M580,680.3 Q580,687.5 583.8,691.9" stroke="rgba(214,39,40,0.495)" stroke-width="1.2" fill="none"/>
<path d="M589.3,670.1 Q593,679.5 594.4,684.8" stroke="rgba(214,39,40,0.495)" stroke-width="1.2" fill="none"/>
<path d="M566.4,669.5 Q585,663.5 589.3,670.1" stroke="rgba(214,39,40,0.495)" stroke-width="1.2" fill="none"/>
<path d="M566.4,669.5 Q580,695.5 594.4,684.8" stroke="rgba(214,39,40,0.495)" stroke-width="1.2" fill="none"/>
<path d="M136.6,667.2 Q128,661.5 116.2,657.0" stroke="rgba(31,119,180,0.371)" stroke-width="1.2" fill="none"/>
<path d="M136.6,667.2 Q130,677.5 126.4,683.5" stroke="rgba(31,119,180,0.371)" stroke-width="1.2" fill="none"/>
<path d="M136.6,667.2 Q128,671.5 121.3,669.2" stroke="rgba(31,119,180,0.371)" stroke-width="1.2" fill="none"/>
<path d="M126.4,683.5 Q127,688.5 129,692.7" stroke="rgba(31,119,180,0.495)" stroke-width="1.2" fill="none"/>
<path d="M126.4,683.5 Q118,685.5 112.1,679.5" stroke="rgba(31,119,180,0.371)" stroke-width="1.2" fill="none"/>
<path d="M99.9,659.0 Q94,663.5 90.2,667.8" stroke="rgba(31,119,180,0.371)" stroke-width="1.2" fill="none"/>
<path d="M215.5,695 Q209.5,720 215,742" stroke="url(#g44)" stroke-width="1.2" fill="none"/>
<path d="M219.2,696 Q217,714 225.5,728" stroke="url(#g45)" stroke-width="1.2" fill="none"/>
<path d="M226,730 Q226,738 221,742" stroke="rgba(23,232,245,0.619)" stroke-width="1.2" fill="none"/>
<path d="M218,747 Q213,750 211,755" stroke="rgba(23,232,245,0.99)" stroke-width="1.2" fill="none"/>
<path d="M218,747 Q220,752 219,758" stroke="rgba(23,232,245,0.99)" stroke-width="1.2" fill="none"/>
<path d="M244.6,607.5 Q251.9,595.0 262,584.6" stroke="rgba(255,255,51,0.371)" stroke-width="1.0" fill="none"/>
<path d="M244.6,607.5 Q253.5,595.8 265,586.6" stroke="rgba(255,255,51,0.371)" stroke-width="1.0" fill="none"/>
<path d="M244.6,607.5 Q255.2,597.1 268,589.6" stroke="rgba(255,255,51,0.371)" stroke-width="1.0" fill="none"/>
<path d="M244.6,607.5 Q257.0,599.0 271,593.6" stroke="rgba(255,255,51,0.371)" stroke-width="1.0" fill="none"/>
<path d="M244.6,607.5 Q260.8,604.3 277.3,605.0" stroke="rgba(255,255,51,0.371)" stroke-width="1.0" fill="none"/>
<path d="M244.6,607.5 Q261.6,608.0 278,612.6" stroke="rgba(255,255,51,0.371)" stroke-width="1.0" fill="none"/>
<path d="M244.6,607.5 Q260.9,610.7 276,617.6" stroke="rgba(255,255,51,0.371)" stroke-width="1.0" fill="none"/>
<path d="M244.6,607.5 Q260.3,609.7 275,615.6" stroke="rgba(255,255,51,0.371)" stroke-width="1.0" fill="none"/>
<path d="M244.6,607.5 Q256.4,619.3 265,633.6" stroke="rgba(255,255,51,0.371)" stroke-width="1.0" fill="none"/>
<path d="M244.6,607.5 Q236.5,622.7 225,635.6" stroke="rgba(255,255,51,0.371)" stroke-width="1.0" fill="none"/>
<path d="M244.6,607.5 Q239.2,623.9 230,638.6" stroke="rgba(255,255,51,0.371)" stroke-width="1.0" fill="none"/>
<path d="M244.6,607.5 Q241.8,624.6 235,640.6" stroke="rgba(255,255,51,0.371)" stroke-width="1.0" fill="none"/>
<path d="M244.6,607.5 Q234.5,593.5 228,577.6" stroke="rgba(255,255,51,0.371)" stroke-width="1.0" fill="none"/>
<path d="M244.6,607.5 Q238.3,591.6 236,574.6" stroke="rgba(255,255,51,0.371)" stroke-width="1.0" fill="none"/>
<path d="M244.6,607.5 Q231.7,595.9 222,581.6" stroke="rgba(255,255,51,0.371)" stroke-width="1.0" fill="none"/>
<path d="M244.6,607.5 Q249.2,623.2 250,639.6" stroke="rgba(255,255,51,0.371)" stroke-width="1.0" fill="none"/>
<path d="M244.6,607.5 Q252.1,621.9 256,637.6" stroke="rgba(255,255,51,0.371)" stroke-width="1.0" fill="none"/>
<path d="M529.3,640.3 Q537.4,640.9 544.4,645.1" stroke="rgba(214,39,40,0.309)" stroke-width="1.0" fill="none"/>
<path d="M529.3,640.3 Q531.1,648.3 536.3,654.7" stroke="rgba(214,39,40,0.309)" stroke-width="1.0" fill="none"/>
<path d="M529.3,640.3 Q539.6,646.3 546,656.3" stroke="rgba(214,39,40,0.309)" stroke-width="1.0" fill="none"/>
<path d="M544.4,645.1 Q541.5,650.9 536.3,654.7" stroke="rgba(214,39,40,0.309)" stroke-width="1.0" fill="none"/>
<path d="M544.4,645.1 Q543.9,650.9 546,656.3" stroke="rgba(214,39,40,0.309)" stroke-width="1.0" fill="none"/>
<path d="M544.4,645.1 Q558.3,654.9 566.2,669.9" stroke="rgba(214,39,40,0.309)" stroke-width="1.0" fill="none"/>
<path d="M536.3,654.7 Q541.3,654.3 546,656.3" stroke="rgba(214,39,40,0.309)" stroke-width="1.0" fill="none"/>
<path d="M536.3,654.7 Q549.4,665.9 566.2,669.9" stroke="rgba(214,39,40,0.309)" stroke-width="1.0" fill="none"/>
<path d="M546,656.3 Q557.7,660.7 566.2,669.9" stroke="rgba(214,39,40,0.309)" stroke-width="1.0" fill="none"/>
<path d="M566.2,669.9 Q575.2,673.7 581.5,681.1" stroke="rgba(214,39,40,0.309)" stroke-width="1.0" fill="none"/>
<path d="M566.2,669.9 Q578.0,672.2 589.6,668.9" stroke="rgba(214,39,40,0.309)" stroke-width="1.0" fill="none"/>
<path d="M566.2,669.9 Q583.3,668.8 599,675.5" stroke="rgba(214,39,40,0.309)" stroke-width="1.0" fill="none"/>
<path d="M566.2,669.9 Q578.5,681.4 594.6,686" stroke="rgba(214,39,40,0.309)" stroke-width="1.0" fill="none"/>
<path d="M566.2,669.9 Q577.5,679.0 583.4,692.3" stroke="rgba(214,39,40,0.309)" stroke-width="1.0" fill="none"/>
<path d="M581.5,681.1 Q584.1,674.0 589.6,668.9" stroke="rgba(214,39,40,0.309)" stroke-width="1.0" fill="none"/>
<path d="M581.5,681.1 Q590.9,680.4 599,675.5" stroke="rgba(214,39,40,0.309)" stroke-width="1.0" fill="none"/>
<path d="M581.5,681.1 Q588.6,682.0 594.6,686" stroke="rgba(214,39,40,0.309)" stroke-width="1.0" fill="none"/>
<path d="M581.5,681.1 Q581.1,686.9 583.4,692.3" stroke="rgba(214,39,40,0.309)" stroke-width="1.0" fill="none"/>
<path d="M589.6,668.9 Q595.1,671.1 599,675.5" stroke="rgba(214,39,40,0.309)" stroke-width="1.0" fill="none"/>
<path d="M589.6,668.9 Q590.0,678.1 594.6,686" stroke="rgba(214,39,40,0.309)" stroke-width="1.0" fill="none"/>
<path d="M589.6,668.9 Q589.3,681.3 583.4,692.3" stroke="rgba(214,39,40,0.309)" stroke-width="1.0" fill="none"/>
<path d="M599,675.5 Q598.1,681.3 594.6,686" stroke="rgba(214,39,40,0.309)" stroke-width="1.0" fill="none"/>
<path d="M599,675.5 Q589.2,682.0 583.4,692.3" stroke="rgba(214,39,40,0.309)" stroke-width="1.0" fill="none"/>
<path d="M594.6,686 Q589.8,690.5 583.4,692.3" stroke="rgba(214,39,40,0.309)" stroke-width="1.0" fill="none"/>
<path d="M396.5,531.9 Q395.5,540.2 390.9,547.1" stroke="rgba(44,160,44,0.309)" stroke-width="1.0" fill="none"/>
<path d="M396.5,531.9 Q401.2,538.9 408.5,543.1" stroke="rgba(44,160,44,0.309)" stroke-width="1.0" fill="none"/>
<path d="M396.5,531.9 Q396.5,547.6 389.3,561.6" stroke="rgba(44,160,44,0.309)" stroke-width="1.0" fill="none"/>
<path d="M390.9,547.1 Q399.2,543.0 408.5,543.1" stroke="rgba(44,160,44,0.309)" stroke-width="1.0" fill="none"/>
<path d="M390.9,547.1 Q388.4,554.2 389.3,561.6" stroke="rgba(44,160,44,0.309)" stroke-width="1.0" fill="none"/>
<path d="M390.9,547.1 Q400.8,558.3 404.5,572.8" stroke="rgba(44,160,44,0.309)" stroke-width="1.0" fill="none"/>
<path d="M408.5,543.1 Q401.1,554.7 389.3,561.6" stroke="rgba(44,160,44,0.309)" stroke-width="1.0" fill="none"/>
<path d="M408.5,543.1 Q402.9,557.5 404.5,572.8" stroke="rgba(44,160,44,0.309)" stroke-width="1.0" fill="none"/>
<path d="M389.3,561.6 Q398.2,565.4 404.5,572.8" stroke="rgba(44,160,44,0.309)" stroke-width="1.0" fill="none"/>
<path d="M404.5,572.8 Q417.3,574.4 429.4,570" stroke="rgba(44,160,44,0.309)" stroke-width="1.0" fill="none"/>
<path d="M439.1,558.4 Q435.6,565.4 429.4,570" stroke="rgba(44,160,44,0.309)" stroke-width="1.0" fill="none"/>
<path d="M439.1,558.4 Q451.8,553.8 461.1,543.9" stroke="rgba(44,160,44,0.309)" stroke-width="1.0" fill="none"/>
<path d="M439.1,558.4 Q450.2,545.5 465.9,539.1" stroke="rgba(44,160,44,0.309)" stroke-width="1.0" fill="none"/>
<path d="M461.1,543.9 Q462.9,540.9 465.9,539.1" stroke="rgba(44,160,44,0.309)" stroke-width="1.0" fill="none"/>
<path d="M100.1,660.5 Q105.2,661.4 109.3,664.6" stroke="rgba(31,119,180,0.309)" stroke-width="1.0" fill="none"/>
<path d="M100.1,660.5 Q109.6,666.0 120.5,666.7" stroke="rgba(31,119,180,0.309)" stroke-width="1.0" fill="none"/>
<path d="M100.1,660.5 Q101.7,667.1 100.1,673.8" stroke="rgba(31,119,180,0.309)" stroke-width="1.0" fill="none"/>
<path d="M100.1,660.5 Q104.4,669.7 112.3,675.9" stroke="rgba(31,119,180,0.309)" stroke-width="1.0" fill="none"/>
<path d="M100.1,660.5 Q95.8,665.0 89.9,667.1" stroke="rgba(31,119,180,0.309)" stroke-width="1.0" fill="none"/>
<path d="M109.3,664.6 Q115.2,664.3 120.5,666.7" stroke="rgba(31,119,180,0.309)" stroke-width="1.0" fill="none"/>
<path d="M109.3,664.6 Q103.6,668.1 100.1,673.8" stroke="rgba(31,119,180,0.309)" stroke-width="1.0" fill="none"/>
<path d="M109.3,664.6 Q112.2,669.9 112.3,675.9" stroke="rgba(31,119,180,0.309)" stroke-width="1.0" fill="none"/>
<path d="M109.3,664.6 Q122.8,669.0 136.9,666.7" stroke="rgba(31,119,180,0.309)" stroke-width="1.0" fill="none"/>
<path d="M109.3,664.6 Q120.2,671.7 126.6,683" stroke="rgba(31,119,180,0.309)" stroke-width="1.0" fill="none"/>
<path d="M109.3,664.6 Q99.3,663.5 89.9,667.1" stroke="rgba(31,119,180,0.309)" stroke-width="1.0" fill="none"/>
<path d="M109.3,664.6 Q122.1,675.1 128.7,690.2" stroke="rgba(31,119,180,0.309)" stroke-width="1.0" fill="none"/>
<path d="M120.5,666.7 Q111.2,672.7 100.1,673.8" stroke="rgba(31,119,180,0.309)" stroke-width="1.0" fill="none"/>
<path d="M120.5,666.7 Q115.3,670.3 112.3,675.9" stroke="rgba(31,119,180,0.309)" stroke-width="1.0" fill="none"/>
<path d="M120.5,666.7 Q128.7,664.7 136.9,666.7" stroke="rgba(31,119,180,0.309)" stroke-width="1.0" fill="none"/>
<path d="M120.5,666.7 Q121.6,675.6 126.6,683" stroke="rgba(31,119,180,0.309)" stroke-width="1.0" fill="none"/>
<path d="M120.5,666.7 Q105.2,670.6 89.9,667.1" stroke="rgba(31,119,180,0.309)" stroke-width="1.0" fill="none"/>
<path d="M120.5,666.7 Q121.8,679.4 128.7,690.2" stroke="rgba(31,119,180,0.309)" stroke-width="1.0" fill="none"/>
<path d="M100.1,673.8 Q106.5,673.4 112.3,675.9" stroke="rgba(31,119,180,0.309)" stroke-width="1.0" fill="none"/>
<path d="M100.1,673.8 Q114.5,675.2 126.6,683" stroke="rgba(31,119,180,0.309)" stroke-width="1.0" fill="none"/>
<path d="M100.1,673.8 Q95.8,669.2 89.9,667.1" stroke="rgba(31,119,180,0.309)" stroke-width="1.0" fill="none"/>
<path d="M100.1,673.8 Q116.4,678.6 128.7,690.2" stroke="rgba(31,119,180,0.309)" stroke-width="1.0" fill="none"/>
<path d="M112.3,675.9 Q123.5,668.3 136.9,666.7" stroke="rgba(31,119,180,0.309)" stroke-width="1.0" fill="none"/>
<path d="M112.3,675.9 Q118.6,681.2 126.6,683" stroke="rgba(31,119,180,0.309)" stroke-width="1.0" fill="none"/>
<path d="M112.3,675.9 Q100.0,674.2 89.9,667.1" stroke="rgba(31,119,180,0.309)" stroke-width="1.0" fill="none"/>
<path d="M112.3,675.9 Q118.8,685.0 128.7,690.2" stroke="rgba(31,119,180,0.309)" stroke-width="1.0" fill="none"/>
<path d="M136.9,666.7 Q133.7,676.1 126.6,683" stroke="rgba(31,119,180,0.309)" stroke-width="1.0" fill="none"/>
<path d="M136.9,666.7 Q135.6,679.4 128.7,690.2" stroke="rgba(31,119,180,0.309)" stroke-width="1.0" fill="none"/>
<path d="M126.6,683 Q126.8,686.9 128.7,690.2" stroke="rgba(31,119,180,0.309)" stroke-width="1.0" fill="none"/>
<path d="M343.1,554.4 Q346.8,557.0 348.9,561" stroke="rgba(255,127,14,0.309)" stroke-width="1.0" fill="none"/>
<path d="M370.9,600.7 Q373.4,607.8 372.3,615.3" stroke="rgba(255,127,14,0.309)" stroke-width="1.0" fill="none"/>
<path d="M370.9,600.7 Q381.4,599.6 390.3,593.8" stroke="rgba(255,127,14,0.309)" stroke-width="1.0" fill="none"/>
<path d="M370.9,600.7 Q386.0,597.8 400.8,602.1" stroke="rgba(255,127,14,0.309)" stroke-width="1.0" fill="none"/>
<path d="M370.9,600.7 Q364.5,609.6 362.8,620.4" stroke="rgba(255,127,14,0.309)" stroke-width="1.0" fill="none"/>
<path d="M370.9,600.7 Q377.4,605.3 381.1,612.3" stroke="rgba(255,127,14,0.309)" stroke-width="1.0" fill="none"/>
<path d="M372.3,615.3 Q378.7,602.4 390.3,593.8" stroke="rgba(255,127,14,0.309)" stroke-width="1.0" fill="none"/>
<path d="M372.3,615.3 Q388.1,612.1 400.8,602.1" stroke="rgba(255,127,14,0.309)" stroke-width="1.0" fill="none"/>
<path d="M372.3,615.3 Q368.2,619.0 362.8,620.4" stroke="rgba(255,127,14,0.309)" stroke-width="1.0" fill="none"/>
<path d="M372.3,615.3 Q377.1,614.9 381.1,612.3" stroke="rgba(255,127,14,0.309)" stroke-width="1.0" fill="none"/>
<path d="M390.3,593.8 Q396.5,596.7 400.8,602.1" stroke="rgba(255,127,14,0.309)" stroke-width="1.0" fill="none"/>
<path d="M390.3,593.8 Q387.9,604.2 381.1,612.3" stroke="rgba(255,127,14,0.309)" stroke-width="1.0" fill="none"/>
<path d="M400.8,602.1 Q389.7,604.8 381.1,612.3" stroke="rgba(255,127,14,0.309)" stroke-width="1.0" fill="none"/>
<path d="M362.8,620.4 Q371.0,614.2 381.1,612.3" stroke="rgba(255,127,14,0.309)" stroke-width="1.0" fill="none"/>
<path d="M217.3,541.9 Q212.2,549.6 204.2,554.2" stroke="rgba(140,86,75,0.309)" stroke-width="1.0" fill="none"/>
<path d="M217.3,541.9 Q220.2,551.0 226.9,557.7" stroke="rgba(140,86,75,0.309)" stroke-width="1.0" fill="none"/>
<path d="M217.3,541.9 Q218.3,552.3 214.5,562" stroke="rgba(140,86,75,0.309)" stroke-width="1.0" fill="none"/>
<path d="M217.3,541.9 Q205.8,553.1 200.7,568.2" stroke="rgba(140,86,75,0.309)" stroke-width="1.0" fill="none"/>
<path d="M217.3,541.9 Q225.7,555.6 226.9,571.7" stroke="rgba(140,86,75,0.309)" stroke-width="1.0" fill="none"/>
<path d="M204.2,554.2 Q216.0,553.2 226.9,557.7" stroke="rgba(140,86,75,0.309)" stroke-width="1.0" fill="none"/>
<path d="M204.2,554.2 Q208.4,559.3 214.5,562" stroke="rgba(140,86,75,0.309)" stroke-width="1.0" fill="none"/>
<path d="M204.2,554.2 Q204.1,561.6 200.7,568.2" stroke="rgba(140,86,75,0.309)" stroke-width="1.0" fill="none"/>
<path d="M204.2,554.2 Q213.5,565.7 226.9,571.7" stroke="rgba(140,86,75,0.309)" stroke-width="1.0" fill="none"/>
<path d="M204.2,554.2 Q211.3,564.5 212.9,576.9" stroke="rgba(140,86,75,0.309)" stroke-width="1.0" fill="none"/>
<path d="M226.9,557.7 Q221.2,561.3 214.5,562" stroke="rgba(140,86,75,0.309)" stroke-width="1.0" fill="none"/>
<path d="M226.9,557.7 Q212.5,559.8 200.7,568.2" stroke="rgba(140,86,75,0.309)" stroke-width="1.0" fill="none"/>
<path d="M226.9,557.7 Q228.6,564.7 226.9,571.7" stroke="rgba(140,86,75,0.309)" stroke-width="1.0" fill="none"/>
<path d="M226.9,557.7 Q217.6,565.6 212.9,576.9" stroke="rgba(140,86,75,0.309)" stroke-width="1.0" fill="none"/>
<path d="M214.5,562 Q208.3,566.8 200.7,568.2" stroke="rgba(140,86,75,0.309)" stroke-width="1.0" fill="none"/>
<path d="M214.5,562 Q219.5,568.3 226.9,571.7" stroke="rgba(140,86,75,0.309)" stroke-width="1.0" fill="none"/>
<path d="M214.5,562 Q215.5,569.6 212.9,576.9" stroke="rgba(140,86,75,0.309)" stroke-width="1.0" fill="none"/>
<path d="M200.7,568.2 Q214.2,566.8 226.9,571.7" stroke="rgba(140,86,75,0.309)" stroke-width="1.0" fill="none"/>
<path d="M200.7,568.2 Q205.8,574.0 212.9,576.9" stroke="rgba(140,86,75,0.309)" stroke-width="1.0" fill="none"/>
<path d="M226.9,571.7 Q220.5,576.0 212.9,576.9" stroke="rgba(140,86,75,0.309)" stroke-width="1.0" fill="none"/>
<path d="M273.7,653.7 Q277.8,661.0 278.1,669.4" stroke="rgba(227,119,194,0.309)" stroke-width="1.0" fill="none"/>
<path d="M273.7,653.7 Q279.4,659.2 286.9,661.5" stroke="rgba(227,119,194,0.309)" stroke-width="1.0" fill="none"/>
<path d="M273.7,653.7 Q280.5,666.4 280.7,680.8" stroke="rgba(227,119,194,0.309)" stroke-width="1.0" fill="none"/>
<path d="M278.1,669.4 Q281.6,664.4 286.9,661.5" stroke="rgba(227,119,194,0.309)" stroke-width="1.0" fill="none"/>
<path d="M278.1,669.4 Q278.0,675.4 280.7,680.8" stroke="rgba(227,119,194,0.309)" stroke-width="1.0" fill="none"/>
<path d="M286.9,661.5 Q286.1,671.9 280.7,680.8" stroke="rgba(227,119,194,0.309)" stroke-width="1.0" fill="none"/>
<path d="M320.9,645.2 Q327.5,648.2 332,653.9" stroke="rgba(227,119,194,0.309)" stroke-width="1.0" fill="none"/>
<path d="M320.9,645.2 Q322.3,654.2 327.7,661.5" stroke="rgba(227,119,194,0.309)" stroke-width="1.0" fill="none"/>
<path d="M332,653.9 Q330.8,658.2 327.7,661.5" stroke="rgba(227,119,194,0.309)" stroke-width="1.0" fill="none"/>
<path d="M290.9,488.6 Q295.8,486.0 301.4,485.9" stroke="rgba(160,245,20,0.309)" stroke-width="1.0" fill="none"/>
<path d="M290.9,488.6 Q299.8,492.5 309.5,492" stroke="rgba(160,245,20,0.309)" stroke-width="1.0" fill="none"/>
<path d="M290.9,488.6 Q296.4,490.7 300.3,495.1" stroke="rgba(160,245,20,0.309)" stroke-width="1.0" fill="none"/>
<path d="M290.9,488.6 Q295.3,495.2 302.2,499.1" stroke="rgba(160,245,20,0.309)" stroke-width="1.0" fill="none"/>
<path d="M290.9,488.6 Q301.5,493.7 308.7,503" stroke="rgba(160,245,20,0.309)" stroke-width="1.0" fill="none"/>
<path d="M301.4,485.9 Q306.2,488.0 309.5,492" stroke="rgba(160,245,20,0.309)" stroke-width="1.0" fill="none"/>
<path d="M301.4,485.9 Q299.7,490.4 300.3,495.1" stroke="rgba(160,245,20,0.309)" stroke-width="1.0" fill="none"/>
<path d="M301.4,485.9 Q303.4,492.4 302.2,499.1" stroke="rgba(160,245,20,0.309)" stroke-width="1.0" fill="none"/>
<path d="M301.4,485.9 Q303.0,495.3 308.7,503" stroke="rgba(160,245,20,0.309)" stroke-width="1.0" fill="none"/>
<path d="M309.5,492 Q305.3,494.7 300.3,495.1" stroke="rgba(160,245,20,0.309)" stroke-width="1.0" fill="none"/>
<path d="M309.5,492 Q305.0,494.7 302.2,499.1" stroke="rgba(160,245,20,0.309)" stroke-width="1.0" fill="none"/>
<path d="M309.5,492 Q310.4,497.6 308.7,503" stroke="rgba(160,245,20,0.309)" stroke-width="1.0" fill="none"/>
<path d="M300.3,495.1 Q301.7,496.9 302.2,499.1" stroke="rgba(160,245,20,0.309)" stroke-width="1.0" fill="none"/>
<path d="M300.3,495.1 Q303.6,500.1 308.7,503" stroke="rgba(160,245,20,0.309)" stroke-width="1.0" fill="none"/>
<path d="M302.2,499.1 Q305.9,500.3 308.7,503" stroke="rgba(160,245,20,0.309)" stroke-width="1.0" fill="none"/>
<path d="M228.6,430.8 Q231.2,429.8 233.9,430" stroke="rgba(158,30,205,0.309)" stroke-width="1.0" fill="none"/>
<path d="M228.6,430.8 Q228.2,436.3 230.4,441.3" stroke="rgba(158,30,205,0.309)" stroke-width="1.0" fill="none"/>
<path d="M228.6,430.8 Q235.3,437.5 238.3,446.5" stroke="rgba(158,30,205,0.309)" stroke-width="1.0" fill="none"/>
<path d="M228.6,430.8 Q227.2,445.1 232.5,458.4" stroke="rgba(158,30,205,0.309)" stroke-width="1.0" fill="none"/>
<path d="M228.6,430.8 Q238.9,441.9 243.1,456.5" stroke="rgba(158,30,205,0.309)" stroke-width="1.0" fill="none"/>
<path d="M233.9,430 Q233.5,436.1 230.4,441.3" stroke="rgba(158,30,205,0.309)" stroke-width="1.0" fill="none"/>
<path d="M233.9,430 Q234.1,438.8 238.3,446.5" stroke="rgba(158,30,205,0.309)" stroke-width="1.0" fill="none"/>
<path d="M233.9,430 Q236.6,444.4 232.5,458.4" stroke="rgba(158,30,205,0.309)" stroke-width="1.0" fill="none"/>
<path d="M233.9,430 Q235.3,444.4 243.1,456.5" stroke="rgba(158,30,205,0.309)" stroke-width="1.0" fill="none"/>
<path d="M230.4,441.3 Q235.0,443.0 238.3,446.5" stroke="rgba(158,30,205,0.309)" stroke-width="1.0" fill="none"/>
<path d="M230.4,441.3 Q229.4,450.1 232.5,458.4" stroke="rgba(158,30,205,0.309)" stroke-width="1.0" fill="none"/>
<path d="M230.4,441.3 Q238.6,447.4 243.1,456.5" stroke="rgba(158,30,205,0.309)" stroke-width="1.0" fill="none"/>
<path d="M238.3,446.5 Q236.8,453.1 232.5,458.4" stroke="rgba(158,30,205,0.309)" stroke-width="1.0" fill="none"/>
<path d="M238.3,446.5 Q239.5,452.1 243.1,456.5" stroke="rgba(158,30,205,0.309)" stroke-width="1.0" fill="none"/>
<path d="M238.3,446.5 Q240.3,461.2 248.8,473.3" stroke="rgba(158,30,205,0.309)" stroke-width="1.0" fill="none"/>
<path d="M232.5,458.4 Q237.6,456.2 243.1,456.5" stroke="rgba(158,30,205,0.309)" stroke-width="1.0" fill="none"/>
<path d="M232.5,458.4 Q229.4,469.7 231.8,481.2" stroke="rgba(158,30,205,0.309)" stroke-width="1.0" fill="none"/>
<path d="M232.5,458.4 Q242.4,463.9 248.8,473.3" stroke="rgba(158,30,205,0.309)" stroke-width="1.0" fill="none"/>
<path d="M232.5,458.4 Q222.9,470.9 220,486.5" stroke="rgba(158,30,205,0.309)" stroke-width="1.0" fill="none"/>
<path d="M243.1,456.5 Q240.4,470.2 231.8,481.2" stroke="rgba(158,30,205,0.309)" stroke-width="1.0" fill="none"/>
<path d="M243.1,456.5 Q243.9,465.6 248.8,473.3" stroke="rgba(158,30,205,0.309)" stroke-width="1.0" fill="none"/>
<path d="M231.8,481.2 Q239.4,475.2 248.8,473.3" stroke="rgba(158,30,205,0.309)" stroke-width="1.0" fill="none"/>
<path d="M231.8,481.2 Q225.3,482.4 220,486.5" stroke="rgba(158,30,205,0.309)" stroke-width="1.0" fill="none"/>
<path d="M231.8,481.2 Q229.5,488.8 223.9,494.6" stroke="rgba(158,30,205,0.309)" stroke-width="1.0" fill="none"/>
<path d="M248.8,473.3 Q236.0,483.4 220,486.5" stroke="rgba(158,30,205,0.309)" stroke-width="1.0" fill="none"/>
<path d="M248.8,473.3 Q233.8,481.0 223.9,494.6" stroke="rgba(158,30,205,0.309)" stroke-width="1.0" fill="none"/>
<path d="M220,486.5 Q222.9,490.1 223.9,494.6" stroke="rgba(158,30,205,0.309)" stroke-width="1.0" fill="none"/></g>
<g id="nodesB"><circle cx="244.6" cy="607.5" r="32.8" fill="url(#n4)"/>
<circle cx="228.6" cy="430.8" r="1.9" fill="url(#n5)"/>
<circle cx="233.9" cy="430" r="2.1" fill="url(#n5)"/>
<circle cx="230.4" cy="441.3" r="3.2" fill="url(#n5)"/>
<circle cx="238.3" cy="446.5" r="5.8" fill="url(#n5)"/>
<circle cx="232.5" cy="458.4" r="2.9" fill="url(#n5)"/>
<circle cx="243.1" cy="456.5" r="3.4" fill="url(#n5)"/>
<circle cx="231.8" cy="481.2" r="8.4" fill="url(#n5)"/>
<circle cx="248.8" cy="473.3" r="4.5" fill="url(#n5)"/>
<circle cx="220" cy="486.5" r="1.8" fill="url(#n5)"/>
<circle cx="223.9" cy="494.6" r="3.2" fill="url(#n5)"/>
<circle cx="290.9" cy="488.6" r="3.2" fill="url(#n11)"/>
<circle cx="301.4" cy="485.9" r="3.2" fill="url(#n11)"/>
<circle cx="309.5" cy="492" r="3.9" fill="url(#n11)"/>
<circle cx="300.3" cy="495.1" r="2.6" fill="url(#n11)"/>
<circle cx="302.2" cy="499.1" r="2.6" fill="url(#n11)"/>
<circle cx="308.7" cy="503" r="6.6" fill="url(#n11)"/>
<circle cx="217.3" cy="541.9" r="10.9" fill="url(#n8)"/>
<circle cx="204.2" cy="554.2" r="10.2" fill="url(#n8)"/>
<circle cx="226.9" cy="557.7" r="10.9" fill="url(#n8)"/>
<circle cx="214.5" cy="562" r="9" fill="url(#n8)"/>
<circle cx="200.7" cy="568.2" r="10.2" fill="url(#n8)"/>
<circle cx="226.9" cy="571.7" r="9.6" fill="url(#n8)"/>
<circle cx="212.9" cy="576.9" r="10.5" fill="url(#n8)"/>
<circle cx="190.5" cy="658" r="4.4" fill="url(#n4)"/>
<circle cx="202.8" cy="658" r="4.4" fill="url(#n4)"/>
<circle cx="168.1" cy="659.1" r="2.1" fill="url(#n4)"/>
<circle cx="228.2" cy="648.4" r="12.3" fill="url(#n4)"/>
<circle cx="222" cy="660.7" r="11.4" fill="url(#n4)"/>
<circle cx="236" cy="665" r="10.5" fill="url(#n4)"/>
<circle cx="248.3" cy="667.7" r="9.6" fill="url(#n4)"/>
<circle cx="227.3" cy="684.3" r="14.9" fill="url(#n4)"/>
<circle cx="273.7" cy="653.7" r="8.8" fill="url(#n9)"/>
<circle cx="278.1" cy="669.4" r="9.6" fill="url(#n9)"/>
<circle cx="286.9" cy="661.5" r="2.1" fill="url(#n9)"/>
<circle cx="280.7" cy="680.8" r="2.1" fill="url(#n9)"/>
<circle cx="320.9" cy="645.2" r="8.8" fill="url(#n9)"/>
<circle cx="332" cy="653.9" r="3.5" fill="url(#n9)"/>
<circle cx="327.7" cy="661.5" r="2" fill="url(#n9)"/>
<circle cx="343.1" cy="554.4" r="2.1" fill="url(#n7)"/>
<circle cx="348.9" cy="561" r="3.7" fill="url(#n7)"/>
<circle cx="370.9" cy="600.7" r="10.9" fill="url(#n7)"/>
<circle cx="372.3" cy="615.3" r="9" fill="url(#n7)"/>
<circle cx="390.3" cy="593.8" r="6.6" fill="url(#n7)"/>
<circle cx="400.8" cy="602.1" r="8" fill="url(#n7)"/>
<circle cx="362.8" cy="620.4" r="3.6" fill="url(#n7)"/>
<circle cx="381.1" cy="612.3" r="5" fill="url(#n7)"/>
<circle cx="396.5" cy="531.9" r="8.8" fill="url(#n2)"/>
<circle cx="390.9" cy="547.1" r="12.8" fill="url(#n2)"/>
<circle cx="408.5" cy="543.1" r="12" fill="url(#n2)"/>
<circle cx="389.3" cy="561.6" r="9.6" fill="url(#n2)"/>
<circle cx="404.5" cy="572.8" r="9" fill="url(#n2)"/>
<circle cx="439.1" cy="558.4" r="16.9" fill="url(#n2)"/>
<circle cx="429.4" cy="570" r="33" fill="url(#n2)"/>
<circle cx="461.1" cy="543.9" r="2.2" fill="url(#n2)"/>
<circle cx="465.9" cy="539.1" r="1.9" fill="url(#n2)"/>
<circle cx="457.7" cy="596.9" r="3.9" fill="url(#n6)"/>
<circle cx="481.7" cy="604.3" r="7.7" fill="url(#n6)"/>
<circle cx="500" cy="609.8" r="2.2" fill="url(#n6)"/>
<circle cx="504.2" cy="619.4" r="1.9" fill="url(#n6)"/>
<circle cx="511.3" cy="594.7" r="2.9" fill="url(#n6)"/>
<circle cx="517" cy="587.3" r="2.6" fill="url(#n6)"/>
<circle cx="525" cy="587.3" r="3.2" fill="url(#n6)"/>
<circle cx="529.9" cy="578.3" r="2.6" fill="url(#n6)"/>
<circle cx="537.3" cy="579.9" r="1.6" fill="url(#n6)"/>
<circle cx="529.3" cy="640.3" r="4.2" fill="url(#n1)"/>
<circle cx="544.4" cy="645.1" r="4.2" fill="url(#n1)"/>
<circle cx="536.3" cy="654.7" r="4.5" fill="url(#n1)"/>
<circle cx="546" cy="656.3" r="4.5" fill="url(#n1)"/>
<circle cx="566.2" cy="669.9" r="12.2" fill="url(#n1)"/>
<circle cx="581.5" cy="681.1" r="8.4" fill="url(#n1)"/>
<circle cx="589.6" cy="668.9" r="4.5" fill="url(#n1)"/>
<circle cx="599" cy="675.5" r="5" fill="url(#n1)"/>
<circle cx="594.6" cy="686" r="6" fill="url(#n1)"/>
<circle cx="583.4" cy="692.3" r="6" fill="url(#n1)"/>
<circle cx="100.1" cy="660.5" r="4.1" fill="url(#n3)"/>
<circle cx="109.3" cy="664.6" r="7.2" fill="url(#n3)"/>
<circle cx="120.5" cy="666.7" r="8.2" fill="url(#n3)"/>
<circle cx="100.1" cy="673.8" r="9.2" fill="url(#n3)"/>
<circle cx="112.3" cy="675.9" r="8.2" fill="url(#n3)"/>
<circle cx="136.9" cy="666.7" r="4.5" fill="url(#n3)"/>
<circle cx="126.6" cy="683" r="4.1" fill="url(#n3)"/>
<circle cx="89.9" cy="667.1" r="2" fill="url(#n3)"/>
<circle cx="128.7" cy="690.2" r="1.3" fill="url(#n3)"/>
<circle cx="226.9" cy="728.8" r="2.8" fill="url(#n10)"/>
<circle cx="218.1" cy="746.5" r="5.3" fill="url(#n10)"/>
<circle cx="211.1" cy="755" r="4.2" fill="url(#n10)"/>
<circle cx="219" cy="758.1" r="3.2" fill="url(#n10)"/></g><path d="M249,473.5 Q272,465.5 290,488.5 M308,502.5 Q348,520.5 350,561.5 M223.5,495.5 Q211.5,513.5 213.5,535.5 M231,487.5 Q217.5,510.5 218.5,535.5 M240,453.5 Q235,500.5 224,537.5 M244,459.5 Q238.5,505.5 228,547.5 M262,584.5 Q331.8,526.7 392,538.5 M265,586.5 Q335.5,534.5 384,552.5 M268,589.5 Q346.6,540.5 386.5,560.2 M271,593.5 Q339.5,553.5 390,571.5 M277.3,604.9 Q345.4,598.8 392,565.5 M278,612.5 Q351,638.0 400,575.5 M276,617.5 Q347,641.0 410,580.5 M276,614.5 Q330,631.5 362,620.5 M351,565.5 Q346,595.5 368,613.5 M352,565.5 Q360,590.5 388,599.5 M355,561.5 Q385,560.5 410,575.5 M343,555.5 Q346,558.5 351,563.5 M400,605.5 Q440,625.5 480,607.5 M398,609.5 Q432,619.5 457,598.5 M440,583.5 Q450,593.5 457,597.5 M447,581.5 Q472,579.5 481,602.5 M428,585.5 Q445,601.5 478,605.5 M445,557.5 Q455,547.5 461,543.5 M447,560.5 Q460,547.5 466,539.5 M481,605.5 Q497,603.5 511,595.5 M511,595.5 Q516,590.5 526,588.5 M526,588.5 Q528,583.5 530,579.5 M481,605.5 Q492,609.5 500,610.5 M500,610.5 Q503,615.5 505,620.5 M505,620.5 Q510,635.5 529,640.5 M530,641.5 Q552,650.5 566,669.5 M536,655.5 Q548,665.5 566,669.5 M545,656.5 Q552,663.5 566,669.5 M544,647.5 Q556,655.5 566,669.5 M530,641.5 Q535,650.5 536,655.5 M566,669.5 Q580,670.5 598,675.5 M566,669.5 Q575,685.5 584,691.5 M324,639.0 Q333,621.5 362,618.0 M327,640.0 Q339,625.5 362.5,620.0 M362,622.5 Q352,639.5 333,653.5 M286.5,657.8 Q310,652.5 332,654.3 M280,665.5 Q308,667.5 331.5,655.5 M270,632.5 Q283,642.5 288,659.5 M141,662.5 Q152,653.0 168,659.5 M168,658.5 Q180,655.5 190,658.5 M168,660.5 Q180,662.5 190,660.5 M225,635.5 Q200,640.5 192,655.5 M230,638.5 Q210,645.5 205,657.5 M227.6,431.5 Q227,436.5 229.8,441.1 M235.1,430.5 Q237,437.5 238.1,446.2 M227.6,431.5 Q233,437.5 238.1,446.2 M235.1,430.5 Q231,435.5 229.8,441.1 M238.1,446.2 Q234,452.5 232.4,458.7 M238.1,446.2 Q242,451.5 243.4,457.2 M229.8,441.1 Q229,450.5 232.4,458.7 M232.4,458.7 Q229,469.5 232.5,481.2 M232.4,458.7 Q236,469.5 234,480.5 M243.4,457.2 Q238,467.5 236,477.5 M243.4,457.2 Q247,465.5 249.1,473.8 M238.1,446.2 Q247,459.5 249.1,473.8 M232.5,481.2 Q226,487.5 223.9,494.3 M232.5,481.2 Q225,483.5 220,487.0 M529.6,640.8 Q537,641.5 544,647.0 M544,647.0 Q546,651.5 545.4,656.2 M535.8,655.7 Q540,657.5 545.4,656.2 M529.6,640.8 Q540,657.5 566.4,669.5 M566.4,669.5 Q572,677.5 580,680.3 M580,680.3 Q588,678.5 598,675.5 M580,680.3 Q588,685.5 594.4,684.8 M580,680.3 Q580,687.5 583.8,691.9 M589.3,670.1 Q593,679.5 594.4,684.8 M566.4,669.5 Q585,663.5 589.3,670.1 M566.4,669.5 Q580,695.5 594.4,684.8 M136.6,667.2 Q128,661.5 116.2,657.0 M136.6,667.2 Q130,677.5 126.4,683.5 M136.6,667.2 Q128,671.5 121.3,669.2 M126.4,683.5 Q127,688.5 129,692.7 M126.4,683.5 Q118,685.5 112.1,679.5 M99.9,659.0 Q94,663.5 90.2,667.8 M215.5,695 Q209.5,720 215,742 M219.2,696 Q217,714 225.5,728 M226,730 Q226,738 221,742 M218,747 Q213,750 211,755 M218,747 Q220,752 219,758 M244.6,607.5 Q251.9,595.0 262,584.6 M244.6,607.5 Q253.5,595.8 265,586.6 M244.6,607.5 Q255.2,597.1 268,589.6 M244.6,607.5 Q257.0,599.0 271,593.6 M244.6,607.5 Q260.8,604.3 277.3,605.0 M244.6,607.5 Q261.6,608.0 278,612.6 M244.6,607.5 Q260.9,610.7 276,617.6 M244.6,607.5 Q260.3,609.7 275,615.6 M244.6,607.5 Q256.4,619.3 265,633.6 M244.6,607.5 Q236.5,622.7 225,635.6 M244.6,607.5 Q239.2,623.9 230,638.6 M244.6,607.5 Q241.8,624.6 235,640.6 M244.6,607.5 Q234.5,593.5 228,577.6 M244.6,607.5 Q238.3,591.6 236,574.6 M244.6,607.5 Q231.7,595.9 222,581.6 M244.6,607.5 Q249.2,623.2 250,639.6 M244.6,607.5 Q252.1,621.9 256,637.6" stroke="rgba(255,255,255,0.24)" stroke-width="1" fill="none"/>
<g id="labelsB" style="opacity:0.999"><text x="13.6" y="428.6" font-size="29.3" fill="#000">b</text>
<text x="32" y="428.6" font-size="29.3" fill="#000">)</text>
<text x="213.07" y="433.32" font-size="9.62" textLength="29.77" lengthAdjust="spacingAndGlyphs" fill="#262626">lopez, l</text>
<text x="213.5" y="450.31" font-size="12.64" textLength="49.74" lengthAdjust="spacingAndGlyphs" fill="#262626">romero, r</text>
<text x="192.99" y="485.38" font-size="12.91" textLength="77.36" lengthAdjust="spacingAndGlyphs" fill="#262626">llasat, carmen</text>
<text x="239.73" y="505.68" font-size="12.15" textLength="138.7" lengthAdjust="spacingAndGlyphs" fill="#262626">martinez-gomariz, eduardo</text>
<text x="189.88" y="547.51" font-size="14.94" textLength="55.64" lengthAdjust="spacingAndGlyphs" fill="#262626">brázdil, r</text>
<text x="178.81" y="582.16" font-size="14.37" textLength="67.89" lengthAdjust="spacingAndGlyphs" fill="#262626">deutsch, m</text>
<text x="127.02" y="616" font-size="27.0" textLength="234.42" lengthAdjust="spacingAndGlyphs" fill="#262626">barriendos, mariano</text>
<text x="348.57" y="539.35" font-size="15.09" textLength="96.76" lengthAdjust="spacingAndGlyphs" fill="#262626">thorndycraft, vr</text>
<text x="332.03" y="565.7" font-size="10.29" textLength="35.63" lengthAdjust="spacingAndGlyphs" fill="#262626">blade, e</text>
<text x="380.14" y="576.8" font-size="26.48" textLength="98.69" lengthAdjust="spacingAndGlyphs" fill="#262626">benito, g</text>
<text x="363.3" y="614.85" font-size="10.87" textLength="42.58" lengthAdjust="spacingAndGlyphs" fill="#262626">stoffel, m</text>
<text x="488.25" y="588.43" font-size="10.02" textLength="57.4" lengthAdjust="spacingAndGlyphs" fill="#262626">ballesteros, d</text>
<text x="439.34" y="608.72" font-size="11.92" textLength="84.58" lengthAdjust="spacingAndGlyphs" fill="#262626">valero-garces, bl</text>
<text x="487.03" y="623.24" font-size="8.55" textLength="35.47" lengthAdjust="spacingAndGlyphs" fill="#262626">sancho, c</text>
<text x="517.05" y="650.2" font-size="11.83" textLength="54.06" lengthAdjust="spacingAndGlyphs" fill="#262626">remondo, j</text>
<text x="531.65" y="674.47" font-size="15.53" textLength="68.49" lengthAdjust="spacingAndGlyphs" fill="#262626">guerrero, j</text>
<text x="528.55" y="693.76" font-size="13.59" textLength="110.03" lengthAdjust="spacingAndGlyphs" fill="#262626">gutierrez, francisco</text>
<text x="192.83" y="654.26" font-size="15.86" textLength="74.13" lengthAdjust="spacingAndGlyphs" fill="#262626">pino, david</text>
<text x="226.95" y="672.07" font-size="15.53" textLength="117.89" lengthAdjust="spacingAndGlyphs" fill="#0a0a0a" stroke="#0a0a0a" stroke-width="0.42" stroke-linejoin="round">perez-morales, a</text>
<text x="190.1" y="688.27" font-size="16.3" textLength="74.47" lengthAdjust="spacingAndGlyphs" fill="#262626">balasch, jc</text>
<text x="299.14" y="650.62" font-size="13.81" textLength="45.64" lengthAdjust="spacingAndGlyphs" fill="#262626">olcina, j</text>
<text x="85.85" y="660.63" font-size="10.03" textLength="60.6" lengthAdjust="spacingAndGlyphs" fill="#262626">garcia-ruiz, jm</text>
<text x="54.95" y="677.96" font-size="13.57" textLength="92.02" lengthAdjust="spacingAndGlyphs" fill="#262626">nadal-romero, e</text>
<text x="99.02" y="695.66" font-size="8.64" textLength="58.58" lengthAdjust="spacingAndGlyphs" fill="#262626">azorin-molina, c</text>
<text x="207.12" y="731.07" font-size="8.68" textLength="31.88" lengthAdjust="spacingAndGlyphs" fill="#262626">garcia, c</text>
<text x="195.76" y="749.54" font-size="11.62" textLength="45.75" lengthAdjust="spacingAndGlyphs" fill="#262626">batalla, rj</text></g>
<g id="legendB"><rect x="603.1" y="421.55" width="70.69999999999999" height="13.60" fill="#f2f6fa"/>
<rect x="605.7" y="423.20" width="18.7" height="8.1" fill="#d7191c" stroke="#1a1a1a" stroke-width="1"/>
<text x="629.4000000000001" y="431.75" font-size="10" textLength="36.6" lengthAdjust="spacingAndGlyphs" fill="#2e2e40">Cluster 1</text>
<rect x="603.1" y="435.15" width="70.69999999999999" height="15.80" fill="#e9edf2"/>
<rect x="605.7" y="439.00" width="18.7" height="8.1" fill="#2ca02c" stroke="#1a1a1a" stroke-width="1"/>
<text x="629.4000000000001" y="447.55" font-size="10" textLength="36.6" lengthAdjust="spacingAndGlyphs" fill="#2e2e40">Cluster 2</text>
<rect x="603.1" y="450.95" width="70.69999999999999" height="15.40" fill="#f2f6fa"/>
<rect x="605.7" y="454.80" width="18.7" height="8.1" fill="#1f77b4" stroke="#1a1a1a" stroke-width="1"/>
<text x="629.4000000000001" y="463.35" font-size="10" textLength="36.6" lengthAdjust="spacingAndGlyphs" fill="#2e2e40">Cluster 3</text>
<rect x="603.1" y="466.35" width="70.69999999999999" height="15.45" fill="#e9edf2"/>
<rect x="605.7" y="469.80" width="18.7" height="8.1" fill="#ffff33" stroke="#1a1a1a" stroke-width="1"/>
<text x="629.4000000000001" y="478.35" font-size="10" textLength="36.6" lengthAdjust="spacingAndGlyphs" fill="#2e2e40">Cluster 4</text>
<rect x="603.1" y="481.80" width="70.69999999999999" height="15.90" fill="#f2f6fa"/>
<rect x="605.7" y="485.70" width="18.7" height="8.1" fill="#9a1fc4" stroke="#1a1a1a" stroke-width="1"/>
<text x="629.4000000000001" y="494.25" font-size="10" textLength="36.6" lengthAdjust="spacingAndGlyphs" fill="#2e2e40">Cluster 5</text>
<rect x="603.1" y="497.70" width="70.69999999999999" height="15.95" fill="#e9edf2"/>
<rect x="605.7" y="501.60" width="18.7" height="8.1" fill="#0f1c4d" stroke="#1a1a1a" stroke-width="1"/>
<text x="629.4000000000001" y="510.15" font-size="10" textLength="36.6" lengthAdjust="spacingAndGlyphs" fill="#2e2e40">Cluster 6</text>
<rect x="603.1" y="513.65" width="70.69999999999999" height="16.00" fill="#f2f6fa"/>
<rect x="605.7" y="517.60" width="18.7" height="8.1" fill="#ff7f0e" stroke="#1a1a1a" stroke-width="1"/>
<text x="629.4000000000001" y="526.15" font-size="10" textLength="36.6" lengthAdjust="spacingAndGlyphs" fill="#2e2e40">Cluster 7</text>
<rect x="603.1" y="529.65" width="70.69999999999999" height="15.95" fill="#e9edf2"/>
<rect x="605.7" y="533.60" width="18.7" height="8.1" fill="#8c564b" stroke="#1a1a1a" stroke-width="1"/>
<text x="629.4000000000001" y="542.15" font-size="10" textLength="36.6" lengthAdjust="spacingAndGlyphs" fill="#2e2e40">Cluster 8</text>
<rect x="603.1" y="545.60" width="70.69999999999999" height="15.95" fill="#f2f6fa"/>
<rect x="605.7" y="549.50" width="18.7" height="8.1" fill="#e377c2" stroke="#1a1a1a" stroke-width="1"/>
<text x="629.4000000000001" y="558.05" font-size="10" textLength="36.6" lengthAdjust="spacingAndGlyphs" fill="#2e2e40">Cluster 9</text>
<rect x="603.1" y="561.55" width="70.69999999999999" height="16.00" fill="#e9edf2"/>
<rect x="605.7" y="565.50" width="18.7" height="8.1" fill="#17f0ff" stroke="#1a1a1a" stroke-width="1"/>
<text x="629.4000000000001" y="574.05" font-size="10" textLength="44.2" lengthAdjust="spacingAndGlyphs" fill="#2e2e40">Cluster 10</text>
<rect x="603.1" y="577.55" width="70.69999999999999" height="16.20" fill="#f2f6fa"/>
<rect x="605.7" y="581.50" width="18.7" height="8.1" fill="#99f713" stroke="#1a1a1a" stroke-width="1"/>
<text x="629.4000000000001" y="590.05" font-size="10" textLength="43.4" lengthAdjust="spacingAndGlyphs" fill="#2e2e40">Cluster 11</text></g>
<g id="badgeB" style="opacity:0.999"><rect x="19.4" y="745.3" width="116.3" height="40.2" rx="8" ry="8" fill="#fff" stroke="#e2e2e2" stroke-width="1"/>
<g transform="translate(24.0,747.5)"><g filter="url(#lb)">
<g fill="#14e4f8" stroke="#1cc0e4" stroke-width="0.9" stroke-linejoin="round">
<path d="M13.3,7 C14.6,7.1 15.7,7.8 15.9,8.9 C16.1,9.9 16,10.9 16.4,11.7 C17.2,12.6 18.9,13 18.9,14 C18.9,15 17.8,15.4 17.3,16.1 C16.8,17 16.4,17.9 15.4,18.2 C14.2,18.6 12.8,18.5 11.7,18 C10.5,17.5 9.6,16.8 9.1,15.9 C8.6,15.2 8.2,14.4 8.3,13.6 C8.5,12.3 9.5,11.4 10,10.3 C10.4,9.4 10.6,8.4 11.2,7.7 C11.7,7.1 12.5,6.9 13.3,7 Z"/>
<path d="M11.3,18.4 C12.2,19.2 12.8,20.6 12.9,22 C13,23.4 12.8,24.9 12.2,26.2 C11.7,27.3 10.9,28.3 10,29 C9.3,29.6 8.5,30 7.7,29.9 C6.8,29.8 6.2,28.9 6.1,28 C5.9,26.8 6.3,25.5 6.3,24.3 C6.3,23.2 5.9,22 6.3,21 C6.7,20.1 7.9,19.9 8.9,19.7 C9.7,19.5 10.5,18 11.3,18.4 Z"/>
<path d="M16.8,17.3 C17.4,16.9 18.2,16.8 18.7,17.1 C19.4,17.4 19.5,18.2 19.9,18.7 C20.6,19.4 21.6,19.5 22.4,19.9 C23.5,20.4 24.6,21 25.2,22 C25.6,22.6 26,23.2 25.7,23.8 C25.3,24.9 24.5,25.8 23.4,25.9 C22.4,26 21.6,24.8 20.6,24.5 C19.7,24.3 18.7,25 17.8,24.8 C16.9,24.5 16.1,23.8 15.9,22.9 C15.6,21.8 15.8,20.7 15.9,19.6 C16,18.8 16.2,17.7 16.8,17.3 Z"/>
</g>
<ellipse cx="13.1" cy="14.1" rx="3.3" ry="4" fill="#7df7a0"/>
<ellipse cx="13.15" cy="14.3" rx="2.7" ry="3.4" fill="#d8f53a"/>
<ellipse cx="13.2" cy="14.4" rx="1.95" ry="2.65" fill="#ff8a10"/>
<ellipse cx="13.2" cy="14.4" rx="1.5" ry="2.2" fill="#e61e00"/>
<ellipse cx="13.25" cy="14.6" rx="0.85" ry="1.5" fill="#b40000" transform="rotate(-12 13.25 14.6)"/>
<ellipse cx="9.5" cy="24.6" rx="2.3" ry="4.1" fill="#9af76a" transform="rotate(14 9.5 24.6)"/>
<ellipse cx="9.5" cy="25" rx="1.5" ry="3" fill="#dcf534" transform="rotate(14 9.5 25)"/>
<ellipse cx="9.2" cy="25.9" rx="0.7" ry="1.35" fill="#ffc414" transform="rotate(14 9.2 25.9)"/>
<path d="M17.8,21 C19.5,21.2 22,21.8 23.8,23" stroke="#8cf77a" stroke-width="3" stroke-linecap="round" fill="none"/>
<path d="M17.9,21.1 C19.6,21.3 22,21.9 23.7,23" stroke="#d0f83a" stroke-width="1.9" stroke-linecap="round" fill="none"/>
<path d="M22.2,22.4 L23.5,23" stroke="#f0f02a" stroke-width="1.2" stroke-linecap="round" fill="none"/>
</g></g>
<text x="52.9" y="769.8499999999999" font-size="15" textLength="69.5" lengthAdjust="spacingAndGlyphs" fill="#525252">VOSviewer</text></g>
<g id="frame">
<rect x="0" y="0" width="685" height="1" fill="#000"/>
<rect x="0" y="0" width="1" height="793" fill="#000"/>
<rect x="1" y="0" width="1" height="793" fill="#000" fill-opacity="0.22"/>
<rect x="684" y="0" width="1" height="793" fill="#383838"/>
<rect x="0" y="396" width="685" height="1" fill="#262626"/>
<rect x="0" y="395" width="685" height="1" fill="#000" fill-opacity="0.1"/>
<rect x="0" y="397" width="685" height="1" fill="#000" fill-opacity="0.12"/>
<rect x="0" y="792" width="685" height="1" fill="#444"/>
</g>
</svg></body></html>
